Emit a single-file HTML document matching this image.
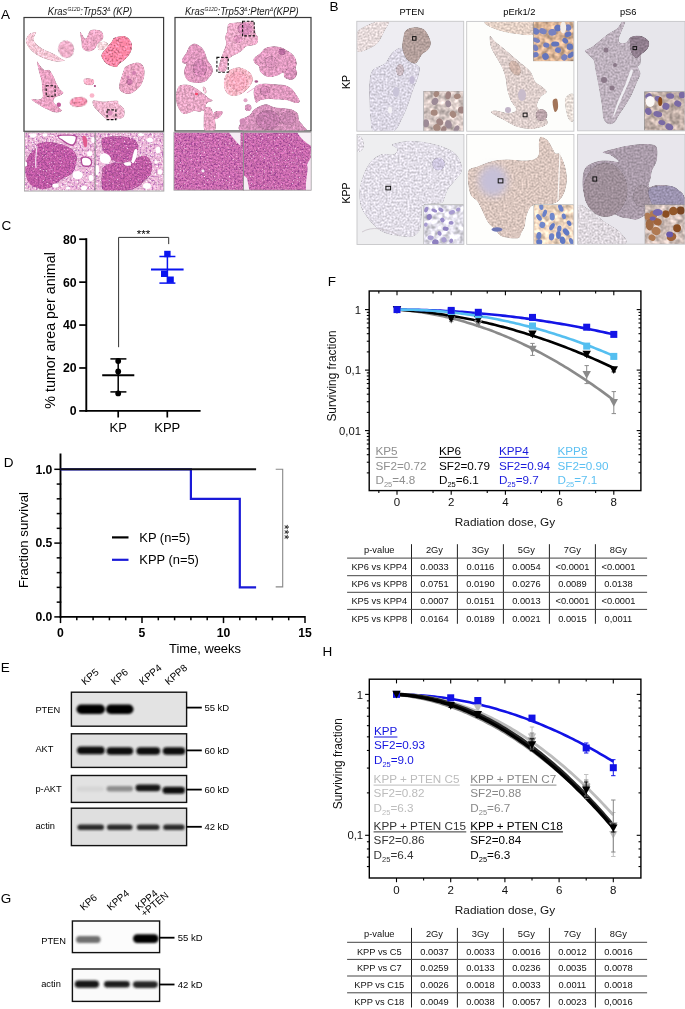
<!DOCTYPE html>
<html><head><meta charset="utf-8"><title>Figure</title>
<style>
html,body{margin:0;padding:0;background:#fff;width:685px;height:1009px;overflow:hidden}
svg{display:block;will-change:transform}
text{font-family:"Liberation Sans",sans-serif}
</style></head><body>
<svg width="685" height="1009" viewBox="0 0 685 1009">
<rect width="685" height="1009" fill="#fff"/>
<text x="1.00" y="18.90" font-size="13.5" fill="#000" text-anchor="start" font-weight="normal" font-style="normal" >A</text>
<text x="329.50" y="10.60" font-size="13.5" fill="#000" text-anchor="start" font-weight="normal" font-style="normal" >B</text>
<text x="1.50" y="230.20" font-size="13.5" fill="#000" text-anchor="start" font-weight="normal" font-style="normal" >C</text>
<text x="3.80" y="466.80" font-size="13.5" fill="#000" text-anchor="start" font-weight="normal" font-style="normal" >D</text>
<text x="0.80" y="672.20" font-size="13.5" fill="#000" text-anchor="start" font-weight="normal" font-style="normal" >E</text>
<text x="327.80" y="286.00" font-size="13.5" fill="#000" text-anchor="start" font-weight="normal" font-style="normal" >F</text>
<text x="0.80" y="903.20" font-size="13.5" fill="#000" text-anchor="start" font-weight="normal" font-style="normal" >G</text>
<text x="322.50" y="656.00" font-size="13.5" fill="#000" text-anchor="start" font-weight="normal" font-style="normal" >H</text>
<text transform="translate(47.8,14.6) scale(0.935,1)" x="0" y="0" font-size="10.2" font-style="italic" fill="#1a1a1a"><tspan dy="0.00">Kras</tspan><tspan font-size="5.30" dy="-3.60">G12D</tspan><tspan dy="3.60">:Trp53</tspan><tspan font-size="5.30" dy="-3.60">Δ</tspan><tspan dy="3.60"> (KP)</tspan></text>
<text transform="translate(185.0,14.6) scale(0.935,1)" x="0" y="0" font-size="10.2" font-style="italic" fill="#1a1a1a"><tspan dy="0.00">Kras</tspan><tspan font-size="5.30" dy="-3.60">G12D</tspan><tspan dy="3.60">:Trp53</tspan><tspan font-size="5.30" dy="-3.60">Δ</tspan><tspan dy="3.60">:Pten</tspan><tspan font-size="5.30" dy="-3.60">Δ</tspan><tspan dy="3.60">(KPP)</tspan></text>
<rect x="24.00" y="17.50" width="139.60" height="113.80" fill="none" stroke="#3a3a3a" stroke-width="1.2" />
<rect x="175.00" y="17.50" width="136.00" height="113.50" fill="none" stroke="#3a3a3a" stroke-width="1.2" />
<text x="411.80" y="15.20" font-size="9.3" fill="#000" text-anchor="middle" font-weight="normal" font-style="normal" >PTEN</text>
<text x="519.30" y="15.20" font-size="9.3" fill="#000" text-anchor="middle" font-weight="normal" font-style="normal" >pErk1/2</text>
<text x="628.20" y="15.20" font-size="9.3" fill="#000" text-anchor="middle" font-weight="normal" font-style="normal" >pS6</text>
<text transform="translate(350.3,82) rotate(-90)" font-size="10.5" text-anchor="middle">KP</text>
<text transform="translate(350.3,193) rotate(-90)" font-size="10.5" text-anchor="middle">KPP</text>
<g id="histB"></g>
<line x1="86.30" y1="238.20" x2="86.30" y2="411.90" stroke="#000" stroke-width="1.9" />
<line x1="85.40" y1="410.90" x2="200.60" y2="410.90" stroke="#000" stroke-width="1.9" />
<line x1="79.20" y1="410.90" x2="86.30" y2="410.90" stroke="#000" stroke-width="1.7" />
<text x="76.60" y="415.30" font-size="12.3" fill="#000" text-anchor="end" font-weight="bold" font-style="normal" >0</text>
<line x1="79.20" y1="367.98" x2="86.30" y2="367.98" stroke="#000" stroke-width="1.7" />
<text x="76.60" y="372.38" font-size="12.3" fill="#000" text-anchor="end" font-weight="bold" font-style="normal" >20</text>
<line x1="79.20" y1="325.06" x2="86.30" y2="325.06" stroke="#000" stroke-width="1.7" />
<text x="76.60" y="329.46" font-size="12.3" fill="#000" text-anchor="end" font-weight="bold" font-style="normal" >40</text>
<line x1="79.20" y1="282.14" x2="86.30" y2="282.14" stroke="#000" stroke-width="1.7" />
<text x="76.60" y="286.54" font-size="12.3" fill="#000" text-anchor="end" font-weight="bold" font-style="normal" >60</text>
<line x1="79.20" y1="239.22" x2="86.30" y2="239.22" stroke="#000" stroke-width="1.7" />
<text x="76.60" y="243.62" font-size="12.3" fill="#000" text-anchor="end" font-weight="bold" font-style="normal" >80</text>
<line x1="118.20" y1="410.90" x2="118.20" y2="417.50" stroke="#000" stroke-width="1.7" />
<line x1="167.30" y1="410.90" x2="167.30" y2="417.50" stroke="#000" stroke-width="1.7" />
<text x="118.20" y="432.40" font-size="13.0" fill="#000" text-anchor="middle" font-weight="normal" font-style="normal" >KP</text>
<text x="167.30" y="432.40" font-size="13.0" fill="#000" text-anchor="middle" font-weight="normal" font-style="normal" >KPP</text>
<text transform="translate(55.2,330.4) rotate(-90)" font-size="14.3" text-anchor="middle">% tumor area per animal</text>
<polyline points="118.6,347.2 118.6,237.4 168.7,237.4 168.7,244.1" fill="none" stroke="#333" stroke-width="1"/>
<text x="143.40" y="237.80" font-size="11.6" fill="#000" text-anchor="middle" font-weight="normal" font-style="normal" >***</text>
<line x1="102.20" y1="375.30" x2="134.30" y2="375.30" stroke="#000" stroke-width="2" />
<line x1="118.20" y1="358.90" x2="118.20" y2="391.90" stroke="#000" stroke-width="1.5" />
<line x1="110.40" y1="358.90" x2="126.40" y2="358.90" stroke="#000" stroke-width="1.5" />
<line x1="110.40" y1="391.90" x2="126.40" y2="391.90" stroke="#000" stroke-width="1.5" />
<circle cx="118.2" cy="361" r="2.9" fill="#000"/>
<circle cx="118.2" cy="371.5" r="2.9" fill="#000"/>
<circle cx="118.2" cy="393.4" r="2.9" fill="#000"/>
<line x1="151.00" y1="269.50" x2="183.60" y2="269.50" stroke="#0a14f0" stroke-width="2.2" />
<line x1="167.40" y1="256.50" x2="167.40" y2="283.10" stroke="#0a14f0" stroke-width="1.5" />
<line x1="159.40" y1="256.50" x2="175.40" y2="256.50" stroke="#0a14f0" stroke-width="1.5" />
<line x1="159.40" y1="283.10" x2="175.40" y2="283.10" stroke="#0a14f0" stroke-width="1.5" />
<rect x="164.20" y="250.80" width="6.40" height="6.40" fill="#0a14f0" stroke="none" stroke-width="1" />
<rect x="161.00" y="270.60" width="6.40" height="6.40" fill="#0a14f0" stroke="none" stroke-width="1" />
<rect x="167.40" y="276.50" width="6.40" height="6.40" fill="#0a14f0" stroke="none" stroke-width="1" />
<line x1="60.50" y1="453.50" x2="60.50" y2="617.80" stroke="#000" stroke-width="1.9" />
<line x1="59.60" y1="616.90" x2="305.00" y2="616.90" stroke="#000" stroke-width="1.9" />
<line x1="54.30" y1="616.90" x2="61.30" y2="616.90" stroke="#000" stroke-width="1.5" />
<line x1="56.70" y1="602.14" x2="61.30" y2="602.14" stroke="#000" stroke-width="1.5" />
<line x1="56.70" y1="587.38" x2="61.30" y2="587.38" stroke="#000" stroke-width="1.5" />
<line x1="56.70" y1="572.62" x2="61.30" y2="572.62" stroke="#000" stroke-width="1.5" />
<line x1="56.70" y1="557.86" x2="61.30" y2="557.86" stroke="#000" stroke-width="1.5" />
<line x1="54.30" y1="543.10" x2="61.30" y2="543.10" stroke="#000" stroke-width="1.5" />
<line x1="56.70" y1="528.34" x2="61.30" y2="528.34" stroke="#000" stroke-width="1.5" />
<line x1="56.70" y1="513.58" x2="61.30" y2="513.58" stroke="#000" stroke-width="1.5" />
<line x1="56.70" y1="498.82" x2="61.30" y2="498.82" stroke="#000" stroke-width="1.5" />
<line x1="56.70" y1="484.06" x2="61.30" y2="484.06" stroke="#000" stroke-width="1.5" />
<line x1="54.30" y1="469.30" x2="61.30" y2="469.30" stroke="#000" stroke-width="1.5" />
<text x="52.40" y="621.10" font-size="12.2" fill="#000" text-anchor="end" font-weight="bold" font-style="normal" >0.0</text>
<text x="52.40" y="547.30" font-size="12.2" fill="#000" text-anchor="end" font-weight="bold" font-style="normal" >0.5</text>
<text x="52.40" y="473.50" font-size="12.2" fill="#000" text-anchor="end" font-weight="bold" font-style="normal" >1.0</text>
<line x1="60.50" y1="616.00" x2="60.50" y2="623.10" stroke="#000" stroke-width="1.5" />
<line x1="76.80" y1="616.00" x2="76.80" y2="620.30" stroke="#000" stroke-width="1.5" />
<line x1="93.10" y1="616.00" x2="93.10" y2="620.30" stroke="#000" stroke-width="1.5" />
<line x1="109.40" y1="616.00" x2="109.40" y2="620.30" stroke="#000" stroke-width="1.5" />
<line x1="125.70" y1="616.00" x2="125.70" y2="620.30" stroke="#000" stroke-width="1.5" />
<line x1="142.00" y1="616.00" x2="142.00" y2="623.10" stroke="#000" stroke-width="1.5" />
<line x1="158.30" y1="616.00" x2="158.30" y2="620.30" stroke="#000" stroke-width="1.5" />
<line x1="174.60" y1="616.00" x2="174.60" y2="620.30" stroke="#000" stroke-width="1.5" />
<line x1="190.90" y1="616.00" x2="190.90" y2="620.30" stroke="#000" stroke-width="1.5" />
<line x1="207.20" y1="616.00" x2="207.20" y2="620.30" stroke="#000" stroke-width="1.5" />
<line x1="223.50" y1="616.00" x2="223.50" y2="623.10" stroke="#000" stroke-width="1.5" />
<line x1="239.80" y1="616.00" x2="239.80" y2="620.30" stroke="#000" stroke-width="1.5" />
<line x1="256.10" y1="616.00" x2="256.10" y2="620.30" stroke="#000" stroke-width="1.5" />
<line x1="272.40" y1="616.00" x2="272.40" y2="620.30" stroke="#000" stroke-width="1.5" />
<line x1="288.70" y1="616.00" x2="288.70" y2="620.30" stroke="#000" stroke-width="1.5" />
<line x1="305.00" y1="616.00" x2="305.00" y2="623.10" stroke="#000" stroke-width="1.5" />
<text x="60.50" y="636.60" font-size="12.2" fill="#000" text-anchor="middle" font-weight="bold" font-style="normal" >0</text>
<text x="142.00" y="636.60" font-size="12.2" fill="#000" text-anchor="middle" font-weight="bold" font-style="normal" >5</text>
<text x="223.50" y="636.60" font-size="12.2" fill="#000" text-anchor="middle" font-weight="bold" font-style="normal" >10</text>
<text x="305.00" y="636.60" font-size="12.2" fill="#000" text-anchor="middle" font-weight="bold" font-style="normal" >15</text>
<text x="205.00" y="652.60" font-size="12.9" fill="#000" text-anchor="middle" font-weight="normal" font-style="normal" >Time, weeks</text>
<text transform="translate(27.6,540) rotate(-90)" font-size="13.2" text-anchor="middle">Fraction survival</text>
<polyline points="60.5,469.29999999999995 190.9,469.29999999999995 190.9,498.82 239.8,498.82 239.8,587.38 256.1,587.38" fill="none" stroke="#1a1ad8" stroke-width="2.2"/>
<line x1="60.50" y1="469.30" x2="256.10" y2="469.30" stroke="#111" stroke-width="2" />
<polyline points="275.7,469.2 282.7,469.2 282.7,586.9 275.7,586.9" fill="none" stroke="#888" stroke-width="1.1"/>
<text transform="translate(280.4,532) rotate(90)" font-size="13" text-anchor="middle">***</text>
<line x1="112.00" y1="537.40" x2="128.50" y2="537.40" stroke="#000" stroke-width="2.2" />
<line x1="112.00" y1="559.80" x2="128.50" y2="559.80" stroke="#1a1ad8" stroke-width="2.2" />
<text x="139.30" y="542.00" font-size="12.9" fill="#000" text-anchor="start" font-weight="normal" font-style="normal" >KP (n=5)</text>
<text x="139.30" y="564.40" font-size="12.9" fill="#000" text-anchor="start" font-weight="normal" font-style="normal" >KPP (n=5)</text>
<defs>
<filter id="he3" x="-5%" y="-5%" width="110%" height="110%" color-interpolation-filters="sRGB"><feTurbulence type="fractalNoise" baseFrequency="0.55" numOctaves="2" seed="21" result="n"/><feColorMatrix in="n" type="matrix" values="0 0 0 0 0.58 0 0 0 0 0.24 0 0 0 0 0.56 3.2 0 0 0 -1.55" result="dk"/><feTurbulence type="fractalNoise" baseFrequency="0.715" numOctaves="1" seed="22" result="n2"/><feColorMatrix in="n2" type="matrix" values="0 0 0 0 1 0 0 0 0 1 0 0 0 0 1 5 0 0 0 -3.25" result="wt"/><feColorMatrix in="n" type="matrix" values="0 1 0 0 0 0 1 0 0 0 0 1 0 0 0 0 0 0 0 1" result="g"/><feComposite in="SourceGraphic" in2="g" operator="arithmetic" k1="0.5" k2="0.75" k3="0" k4="0" result="base"/><feComposite in="dk" in2="base" operator="over" result="a1"/><feComposite in="wt" in2="a1" operator="over" result="a2"/><feComposite in="a2" in2="SourceGraphic" operator="in"/></filter>
<filter id="he4" x="-5%" y="-5%" width="110%" height="110%" color-interpolation-filters="sRGB"><feTurbulence type="fractalNoise" baseFrequency="0.5" numOctaves="2" seed="31" result="n"/><feColorMatrix in="n" type="matrix" values="0 0 0 0 0.72 0 0 0 0 0.42 0 0 0 0 0.72 4 0 0 0 -2.0" result="dk"/><feTurbulence type="fractalNoise" baseFrequency="0.650" numOctaves="1" seed="32" result="n2"/><feColorMatrix in="n2" type="matrix" values="0 0 0 0 1 0 0 0 0 1 0 0 0 0 1 5 0 0 0 -2.8" result="wt"/><feColorMatrix in="n" type="matrix" values="0 1 0 0 0 0 1 0 0 0 0 1 0 0 0 0 0 0 0 1" result="g"/><feComposite in="SourceGraphic" in2="g" operator="arithmetic" k1="0.5" k2="0.75" k3="0" k4="0" result="base"/><feComposite in="dk" in2="base" operator="over" result="a1"/><feComposite in="wt" in2="a1" operator="over" result="a2"/><feComposite in="a2" in2="SourceGraphic" operator="in"/></filter>
<filter id="he" x="-5%" y="-5%" width="110%" height="110%" color-interpolation-filters="sRGB"><feTurbulence type="fractalNoise" baseFrequency="0.45" numOctaves="3" seed="3" result="n"/><feColorMatrix in="n" type="matrix" values="1 0 0 0 0 1 0 0 0 0 1 0 0 0 0 0 0 0 0 1" result="g"/><feComposite in="SourceGraphic" in2="g" operator="arithmetic" k1="0.6" k2="0.7" k3="0" k4="0.0" result="m"/><feComposite in="m" in2="SourceGraphic" operator="in"/></filter>
<filter id="he2" x="-5%" y="-5%" width="110%" height="110%" color-interpolation-filters="sRGB"><feTurbulence type="fractalNoise" baseFrequency="0.5" numOctaves="3" seed="7" result="n"/><feColorMatrix in="n" type="matrix" values="1 0 0 0 0 1 0 0 0 0 1 0 0 0 0 0 0 0 0 1" result="g"/><feComposite in="SourceGraphic" in2="g" operator="arithmetic" k1="1.2" k2="0.42" k3="0" k4="0.0" result="m"/><feComposite in="m" in2="SourceGraphic" operator="in"/></filter>
<filter id="ihc" x="-5%" y="-5%" width="110%" height="110%" color-interpolation-filters="sRGB"><feTurbulence type="fractalNoise" baseFrequency="0.5" numOctaves="2" seed="11" result="n"/><feColorMatrix in="n" type="matrix" values="1 0 0 0 0 1 0 0 0 0 1 0 0 0 0 0 0 0 0 1" result="g"/><feComposite in="SourceGraphic" in2="g" operator="arithmetic" k1="0.5" k2="0.76" k3="0" k4="0.0" result="m"/><feComposite in="m" in2="SourceGraphic" operator="in"/></filter>
<filter id="ins" x="-5%" y="-5%" width="110%" height="110%" color-interpolation-filters="sRGB"><feTurbulence type="fractalNoise" baseFrequency="0.2" numOctaves="2" seed="5" result="n"/><feColorMatrix in="n" type="matrix" values="1 0 0 0 0 1 0 0 0 0 1 0 0 0 0 0 0 0 0 1" result="g"/><feComposite in="SourceGraphic" in2="g" operator="arithmetic" k1="0.8" k2="0.62" k3="0" k4="0.0" result="m"/><feComposite in="m" in2="SourceGraphic" operator="in"/></filter>
<filter id="soft" x="-5%" y="-5%" width="110%" height="110%"><feGaussianBlur stdDeviation="0.6"/></filter>
<clipPath id="cA1"><rect x="24.6" y="18.1" width="138.4" height="112.6"/></clipPath>
<clipPath id="cA2"><rect x="175.6" y="18.1" width="134.8" height="112.3"/></clipPath>
</defs>
<g clip-path="url(#cA1)">
<path d="M36.20,32.20 C35.77,31.68 33.32,32.35 32.00,32.80 C30.68,33.25 29.27,33.85 28.30,34.90 C27.33,35.95 26.47,37.53 26.20,39.10 C25.93,40.67 25.65,42.20 26.70,44.30 C27.75,46.40 29.78,49.42 32.50,51.70 C35.22,53.98 38.97,56.33 43.00,58.00 C47.03,59.67 53.02,61.27 56.70,61.70 C60.38,62.13 64.23,61.05 65.10,60.60 C65.97,60.15 63.83,60.13 61.90,59.00 C59.97,57.87 56.65,55.45 53.50,53.80 C50.35,52.15 45.80,50.68 43.00,49.10 C40.20,47.52 38.27,45.80 36.70,44.30 C35.13,42.80 33.95,41.50 33.60,40.10 C33.25,38.70 34.17,37.22 34.60,35.90 C35.03,34.58 36.63,32.72 36.20,32.20Z" fill="#f8c8d6" filter="url(#he)" />
<ellipse cx="66.10" cy="49.10" rx="7.90" ry="8.90" fill="#f0b0ca" filter="url(#he)" transform="rotate(-15 66.1 49.1)" />
<path d="M80.20,31.90 C80.93,31.53 84.07,38.68 85.70,38.50 C87.33,38.32 88.18,32.27 90.00,30.80 C91.82,29.33 94.58,29.52 96.60,29.70 C98.62,29.88 101.00,30.43 102.10,31.90 C103.20,33.37 103.93,36.50 103.20,38.50 C102.47,40.50 99.17,42.08 97.70,43.90 C96.23,45.72 96.03,48.12 94.40,49.40 C92.77,50.68 89.90,51.78 87.90,51.60 C85.90,51.42 83.50,50.12 82.40,48.30 C81.30,46.48 81.67,43.43 81.30,40.70 C80.93,37.97 79.47,32.27 80.20,31.90Z" fill="#eea8c6" filter="url(#he)" />
<path d="M98.10,43.40 C99.02,42.02 102.28,41.33 104.00,41.50 C105.72,41.67 108.40,43.08 108.40,44.40 C108.40,45.72 105.65,48.50 104.00,49.40 C102.35,50.30 99.48,50.80 98.50,49.80 C97.52,48.80 97.18,44.78 98.10,43.40Z" fill="#fad8de" filter="url(#he)" />
<path d="M114.80,37.50 C117.13,36.60 122.80,35.50 125.60,36.40 C128.40,37.30 130.70,40.37 131.60,42.90 C132.50,45.43 132.00,48.90 131.00,51.60 C130.00,54.30 127.67,56.95 125.60,59.10 C123.53,61.25 120.03,63.20 118.60,64.50 C117.17,65.80 118.17,66.62 117.00,66.90 C115.83,67.18 113.58,66.95 111.60,66.20 C109.62,65.45 106.82,64.22 105.10,62.40 C103.38,60.58 101.12,57.65 101.30,55.30 C101.48,52.95 104.48,50.55 106.20,48.30 C107.92,46.05 110.17,43.60 111.60,41.80 C113.03,40.00 112.47,38.40 114.80,37.50Z" fill="#f884a2" filter="url(#he2)" />
<path d="M125.60,66.50 C127.58,65.15 132.68,63.07 135.40,62.70 C138.12,62.33 140.37,62.95 141.90,64.30 C143.43,65.65 144.33,68.28 144.60,70.80 C144.87,73.32 144.32,76.70 143.50,79.40 C142.68,82.10 141.42,84.83 139.70,87.00 C137.98,89.17 135.37,91.23 133.20,92.40 C131.03,93.57 128.87,94.27 126.70,94.00 C124.53,93.73 121.45,92.33 120.20,90.80 C118.95,89.27 119.02,87.05 119.20,84.80 C119.38,82.55 120.58,79.63 121.30,77.30 C122.02,74.97 122.78,72.60 123.50,70.80 C124.22,69.00 123.62,67.85 125.60,66.50Z" fill="#eba6c4" filter="url(#he)" />
<ellipse cx="129.50" cy="82.00" rx="3.20" ry="3.00" fill="#ca78aa" filter="url(#he)" />
<ellipse cx="134.00" cy="73.00" rx="2.00" ry="2.00" fill="#d180b0" />
<ellipse cx="128.00" cy="77.00" rx="1.60" ry="1.60" fill="#d180b0" />
<path d="M37.00,61.50 C37.23,60.50 39.15,64.58 40.40,66.00 C41.65,67.42 43.02,69.33 44.50,70.00 C45.98,70.67 47.80,68.95 49.30,70.00 C50.80,71.05 52.27,74.02 53.50,76.30 C54.73,78.58 55.65,81.60 56.70,83.70 C57.75,85.80 58.67,87.42 59.80,88.90 C60.93,90.38 63.32,91.55 63.50,92.60 C63.68,93.65 62.22,94.42 60.90,95.20 C59.58,95.98 56.83,96.25 55.60,97.30 C54.37,98.35 53.32,100.10 53.50,101.50 C53.68,102.90 55.30,104.20 56.70,105.70 C58.10,107.20 62.08,109.35 61.90,110.50 C61.72,111.65 58.22,112.87 55.60,112.60 C52.98,112.33 49.00,110.22 46.20,108.90 C43.40,107.58 41.25,106.28 38.80,104.70 C36.35,103.12 31.67,100.28 31.50,99.40 C31.33,98.52 35.97,99.75 37.80,99.40 C39.63,99.05 41.80,99.22 42.50,97.30 C43.20,95.38 42.18,90.70 42.00,87.90 C41.82,85.10 41.90,83.15 41.40,80.50 C40.90,77.85 39.73,75.17 39.00,72.00 C38.27,68.83 36.77,62.50 37.00,61.50Z" fill="#eba3c4" filter="url(#he)" />
<ellipse cx="58.80" cy="104.70" rx="2.20" ry="2.20" fill="#c05a98" />
<ellipse cx="78.50" cy="102.00" rx="9.00" ry="5.00" fill="#f893b0" filter="url(#he2)" transform="rotate(-5 78.5 102.0)" />
<path d="M84.00,79.00 C85.00,78.23 88.33,78.23 90.00,78.40 C91.67,78.57 93.50,78.95 94.00,80.00 C94.50,81.05 94.17,83.87 93.00,84.70 C91.83,85.53 88.50,85.28 87.00,85.00 C85.50,84.72 84.50,84.00 84.00,83.00 C83.50,82.00 83.00,79.77 84.00,79.00Z" fill="#f8aec6" filter="url(#he)" />
<ellipse cx="92.00" cy="95.50" rx="2.40" ry="2.20" fill="#fab6ca" />
<ellipse cx="94.90" cy="86.00" rx="1.10" ry="0.90" fill="#a84682" />
<path d="M93.20,100.50 C94.83,99.87 99.03,101.60 103.00,101.60 C106.97,101.60 114.40,100.13 117.00,100.50 C119.60,100.87 117.60,102.63 118.60,103.80 C119.60,104.97 122.00,106.33 123.00,107.50 C124.00,108.67 124.52,109.17 124.60,110.80 C124.68,112.43 124.95,115.83 123.50,117.30 C122.05,118.77 118.60,119.22 115.90,119.60 C113.20,119.98 109.82,120.53 107.30,119.60 C104.78,118.67 102.60,115.65 100.80,114.00 C99.00,112.35 97.77,111.13 96.50,109.70 C95.23,108.27 93.75,106.93 93.20,105.40 C92.65,103.87 91.57,101.13 93.20,100.50Z" fill="#f0b6ce" filter="url(#he)" />
<ellipse cx="110.00" cy="113.00" rx="2.50" ry="2.50" fill="#d78cb8" />
</g>
<rect x="46.20" y="85.80" width="8.90" height="10.50" fill="none" stroke="#111" stroke-width="1.1" stroke-dasharray="2.6,1.6"/>
<rect x="107.10" y="109.90" width="8.80" height="9.70" fill="none" stroke="#111" stroke-width="1.1" stroke-dasharray="2.6,1.6"/>
<g clip-path="url(#cA2)">
<path d="M228.20,24.20 C229.57,22.75 232.67,22.95 235.30,22.60 C237.93,22.25 241.12,22.33 244.00,22.10 C246.88,21.87 250.82,20.47 252.60,21.20 C254.38,21.93 254.17,24.40 254.70,26.50 C255.23,28.60 255.27,32.05 255.80,33.80 C256.33,35.55 257.65,35.42 257.90,37.00 C258.15,38.58 258.18,41.90 257.30,43.30 C256.42,44.70 254.43,44.88 252.60,45.40 C250.77,45.92 248.05,45.53 246.30,46.40 C244.55,47.27 243.58,49.37 242.10,50.60 C240.62,51.83 239.22,52.75 237.40,53.80 C235.58,54.85 232.73,55.88 231.20,56.90 C229.67,57.92 228.88,58.03 228.20,59.90 C227.52,61.77 227.78,66.05 227.10,68.10 C226.42,70.15 225.62,71.87 224.10,72.20 C222.58,72.53 218.85,71.30 218.00,70.10 C217.15,68.90 218.50,67.03 219.00,65.00 C219.50,62.97 220.33,59.93 221.00,57.90 C221.67,55.87 222.15,55.18 223.00,52.80 C223.85,50.42 225.75,46.17 226.10,43.60 C226.45,41.03 224.93,39.45 225.10,37.40 C225.27,35.35 226.58,33.50 227.10,31.30 C227.62,29.10 226.83,25.65 228.20,24.20Z" fill="#ecacca" filter="url(#he)" />
<ellipse cx="245.00" cy="29.00" rx="7.50" ry="6.50" fill="#d78cb9" filter="url(#he)" />
<ellipse cx="238.00" cy="39.00" rx="4.50" ry="4.00" fill="#df96be" filter="url(#he)" />
<path d="M194.40,43.60 C196.28,43.60 198.88,45.25 200.60,46.60 C202.32,47.95 203.52,49.48 204.70,51.70 C205.88,53.92 206.52,57.52 207.70,59.90 C208.88,62.28 210.95,63.98 211.80,66.00 C212.65,68.02 213.32,69.97 212.80,72.00 C212.28,74.03 210.23,76.48 208.70,78.20 C207.17,79.92 205.98,81.53 203.60,82.30 C201.22,83.07 197.12,83.15 194.40,82.80 C191.68,82.45 189.00,81.65 187.30,80.20 C185.60,78.75 184.63,76.13 184.20,74.10 C183.77,72.07 184.35,69.60 184.70,68.00 C185.05,66.40 186.63,65.33 186.30,64.50 C185.97,63.67 183.38,63.93 182.70,63.00 C182.02,62.07 181.60,60.60 182.20,58.90 C182.80,57.20 185.12,54.85 186.30,52.80 C187.48,50.75 187.95,48.13 189.30,46.60 C190.65,45.07 192.52,43.60 194.40,43.60Z" fill="#e19ac0" filter="url(#he)" />
<ellipse cx="200.00" cy="68.00" rx="7.00" ry="9.00" fill="#d58ab7" filter="url(#he)" />
<path d="M180.10,85.30 C181.97,84.53 185.57,84.28 188.30,84.80 C191.03,85.32 194.45,87.28 196.50,88.40 C198.55,89.52 199.23,90.48 200.60,91.50 C201.97,92.52 203.35,93.40 204.70,94.50 C206.05,95.60 207.35,97.07 208.70,98.10 C210.05,99.13 212.97,99.93 212.80,100.70 C212.63,101.47 208.88,101.68 207.70,102.70 C206.52,103.72 205.18,105.95 205.70,106.80 C206.22,107.65 209.27,105.77 210.80,107.80 C212.33,109.83 214.22,115.22 214.90,119.00 C215.58,122.78 216.60,128.58 214.90,130.50 C213.20,132.42 206.58,132.42 204.70,130.50 C202.82,128.58 203.78,122.27 203.60,119.00 C203.42,115.73 204.28,112.08 203.60,110.90 C202.92,109.72 201.03,111.90 199.50,111.90 C197.97,111.90 196.10,110.73 194.40,110.90 C192.70,111.07 191.00,112.40 189.30,112.90 C187.60,113.40 185.73,114.23 184.20,113.90 C182.67,113.57 181.37,112.60 180.10,110.90 C178.83,109.20 177.28,106.43 176.60,103.70 C175.92,100.97 175.92,96.88 176.00,94.50 C176.08,92.12 176.42,90.93 177.10,89.40 C177.78,87.87 178.23,86.07 180.10,85.30Z" fill="#e8a8c6" filter="url(#he)" />
<ellipse cx="196.50" cy="94.00" rx="1.60" ry="1.20" fill="#f8466a" />
<path d="M213.90,112.50 C214.57,111.15 217.48,110.98 219.00,110.90 C220.52,110.82 222.83,110.98 223.00,112.00 C223.17,113.02 221.33,115.83 220.00,117.00 C218.67,118.17 216.02,119.75 215.00,119.00 C213.98,118.25 213.23,113.85 213.90,112.50Z" fill="#e09abe" filter="url(#he)" />
<path d="M202.60,87.40 C202.68,86.32 204.32,86.23 205.00,87.00 C205.68,87.77 206.78,90.92 206.70,92.00 C206.62,93.08 205.18,94.27 204.50,93.50 C203.82,92.73 202.52,88.48 202.60,87.40Z" fill="#f3bed0" filter="url(#he)" />
<path d="M230.70,69.40 C232.93,68.40 236.97,66.95 240.10,67.40 C243.23,67.85 247.37,70.20 249.50,72.10 C251.63,74.00 252.67,76.68 252.90,78.80 C253.13,80.92 252.13,82.78 250.90,84.80 C249.67,86.82 247.73,89.10 245.50,90.90 C243.27,92.70 240.18,94.93 237.50,95.60 C234.82,96.27 231.53,95.92 229.40,94.90 C227.27,93.88 225.60,91.97 224.70,89.50 C223.80,87.03 223.67,82.78 224.00,80.10 C224.33,77.42 225.58,75.18 226.70,73.40 C227.82,71.62 228.47,70.40 230.70,69.40Z" fill="#fdbac9" filter="url(#he)" />
<ellipse cx="238.00" cy="81.00" rx="9.50" ry="10.00" fill="#fbacc0" filter="url(#he)" />
<path d="M265.20,48.00 C267.12,46.85 269.03,46.57 271.50,46.40 C273.97,46.23 277.02,46.12 280.00,47.00 C282.98,47.88 286.95,50.05 289.40,51.70 C291.85,53.35 293.47,54.98 294.70,56.90 C295.93,58.82 296.63,61.27 296.80,63.20 C296.97,65.13 295.62,66.92 295.70,68.50 C295.78,70.08 297.42,71.12 297.30,72.70 C297.18,74.28 296.08,76.78 295.00,78.00 C293.92,79.22 292.55,80.08 290.80,80.00 C289.05,79.92 285.78,78.70 284.50,77.50 C283.22,76.30 284.45,73.03 283.10,72.80 C281.75,72.57 279.08,75.43 276.40,76.10 C273.72,76.77 269.68,77.47 267.00,76.80 C264.32,76.13 261.65,73.83 260.30,72.10 C258.95,70.37 259.83,67.88 258.90,66.40 C257.97,64.92 255.57,64.52 254.70,63.20 C253.83,61.88 252.82,60.15 253.70,58.50 C254.58,56.85 258.08,55.05 260.00,53.30 C261.92,51.55 263.28,49.15 265.20,48.00Z" fill="#e29cc2" filter="url(#he)" />
<ellipse cx="282.00" cy="51.70" rx="3.60" ry="3.30" fill="#bc6ea2" filter="url(#he)" />
<ellipse cx="290.80" cy="73.40" rx="6.00" ry="6.00" fill="#d892ba" filter="url(#he)" />
<ellipse cx="271.00" cy="62.00" rx="6.00" ry="6.00" fill="#da94bc" filter="url(#he)" />
<path d="M256.30,85.50 C258.08,84.27 261.40,83.72 264.30,83.50 C267.20,83.28 270.57,83.98 273.70,84.20 C276.83,84.42 280.18,84.13 283.10,84.80 C286.02,85.47 288.95,86.52 291.20,88.20 C293.45,89.88 295.15,92.67 296.60,94.90 C298.05,97.13 300.13,100.25 299.90,101.60 C299.67,102.95 297.32,103.22 295.20,103.00 C293.08,102.78 290.33,100.87 287.20,100.30 C284.07,99.73 279.55,99.83 276.40,99.60 C273.25,99.37 270.98,98.78 268.30,98.90 C265.62,99.02 262.30,99.62 260.30,100.30 C258.30,100.98 257.32,103.45 256.30,103.00 C255.28,102.55 254.65,99.62 254.20,97.60 C253.75,95.58 253.25,92.92 253.60,90.90 C253.95,88.88 254.52,86.73 256.30,85.50Z" fill="#e09ac0" filter="url(#he)" />
<ellipse cx="265.00" cy="91.00" rx="5.00" ry="5.00" fill="#d48ab6" filter="url(#he)" />
<line x1="246.9" y1="92.9" x2="260.3" y2="84.2" stroke="#e8b4d2" stroke-width="1"/>
<ellipse cx="256.30" cy="81.50" rx="1.80" ry="1.20" fill="#a8568a" />
<path d="M253.60,109.70 C255.17,108.37 258.07,106.60 260.30,105.70 C262.53,104.80 264.77,104.08 267.00,104.30 C269.23,104.52 270.78,106.33 273.70,107.00 C276.62,107.67 281.37,107.85 284.50,108.30 C287.63,108.75 290.27,108.80 292.50,109.70 C294.73,110.60 296.78,111.92 297.90,113.70 C299.02,115.48 298.30,118.38 299.20,120.40 C300.10,122.42 302.85,124.00 303.30,125.80 C303.75,127.60 311.75,130.30 301.90,131.20 C292.05,132.10 254.50,132.55 244.20,131.20 C233.90,129.85 240.55,125.12 240.10,123.10 C239.65,121.08 240.37,120.22 241.50,119.10 C242.63,117.98 245.33,117.30 246.90,116.40 C248.47,115.50 249.78,114.82 250.90,113.70 C252.02,112.58 252.03,111.03 253.60,109.70Z" fill="#d492ba" filter="url(#he)" />
<ellipse cx="268.00" cy="120.00" rx="12.00" ry="10.00" fill="#c37eac" filter="url(#he)" />
<ellipse cx="288.00" cy="118.00" rx="8.00" ry="7.00" fill="#c886b0" filter="url(#he)" />
<ellipse cx="248.20" cy="107.70" rx="3.40" ry="3.40" fill="#da96be" filter="url(#he)" />
<ellipse cx="245.50" cy="100.30" rx="2.00" ry="2.00" fill="#e1a6c6" />
<ellipse cx="242.20" cy="121.10" rx="2.60" ry="2.60" fill="#d08ab6" />
</g>
<rect x="242.60" y="21.20" width="11.60" height="14.70" fill="none" stroke="#111" stroke-width="1.1" stroke-dasharray="2.6,1.6"/>
<rect x="216.90" y="57.40" width="11.30" height="14.80" fill="none" stroke="#111" stroke-width="1.1" stroke-dasharray="2.6,1.6"/>
<clipPath id="cS1"><rect x="24.4" y="132.2" width="70.7" height="58.5"/></clipPath>
<clipPath id="cS2"><rect x="95.1" y="132.2" width="68.8" height="58.5"/></clipPath>
<clipPath id="cS3"><rect x="173.9" y="132.2" width="69.5" height="58.3"/></clipPath>
<clipPath id="cS4"><rect x="243.4" y="132.2" width="67.8" height="58.3"/></clipPath>
<g clip-path="url(#cS1)">
<rect x="24.40" y="132.20" width="70.70" height="58.50" fill="#ecb8d8" stroke="none" stroke-width="1" filter="url(#he4)"/>
<g filter="url(#soft)">
<path d="M37.70,143.60 C40.15,142.47 46.28,141.83 50.30,142.00 C54.32,142.17 58.30,143.47 61.80,144.60 C65.30,145.73 68.83,146.87 71.30,148.80 C73.77,150.73 75.90,153.22 76.60,156.20 C77.30,159.18 76.38,163.73 75.50,166.70 C74.62,169.67 73.22,172.08 71.30,174.00 C69.38,175.92 66.28,176.78 64.00,178.20 C61.72,179.62 59.88,180.92 57.60,182.50 C55.32,184.08 53.27,186.65 50.30,187.70 C47.33,188.75 43.13,189.32 39.80,188.80 C36.47,188.28 32.58,186.72 30.30,184.60 C28.02,182.48 26.88,179.62 26.10,176.10 C25.32,172.58 24.90,167.35 25.60,163.50 C26.30,159.65 28.63,155.45 30.30,153.00 C31.97,150.55 34.37,150.37 35.60,148.80 C36.83,147.23 35.25,144.73 37.70,143.60Z" fill="#c860aa" filter="url(#he3)" />
</g>
<path d="M57.60,135.20 C59.88,134.33 72.33,134.33 75.50,135.20 C78.67,136.07 76.95,138.65 76.60,140.40 C76.25,142.15 74.82,145.00 73.40,145.70 C71.98,146.40 70.03,145.48 68.10,144.60 C66.17,143.72 63.55,141.97 61.80,140.40 C60.05,138.83 55.32,136.07 57.60,135.20Z" fill="#b04c98" />
<path d="M59.20,136.30 C61.13,135.75 71.53,135.65 74.20,136.30 C76.87,136.95 75.43,138.88 75.20,140.20 C74.97,141.52 73.93,143.70 72.80,144.20 C71.67,144.70 70.10,143.97 68.40,143.20 C66.70,142.43 64.13,140.75 62.60,139.60 C61.07,138.45 57.27,136.85 59.20,136.30Z" fill="#ffffff" />
<path d="M81.30,157.20 C82.35,156.42 85.43,156.35 87.10,156.70 C88.77,157.05 90.43,158.17 91.30,159.30 C92.17,160.43 92.65,162.27 92.30,163.50 C91.95,164.73 90.77,166.25 89.20,166.70 C87.63,167.15 84.30,167.08 82.90,166.20 C81.50,165.32 81.07,162.90 80.80,161.40 C80.53,159.90 80.25,157.98 81.30,157.20Z" fill="#b04c98" />
<path d="M82.60,158.40 C83.42,157.83 85.73,157.73 87.00,158.00 C88.27,158.27 89.55,159.12 90.20,160.00 C90.85,160.88 91.13,162.40 90.90,163.30 C90.67,164.20 90.03,165.12 88.80,165.40 C87.57,165.68 84.62,165.67 83.50,165.00 C82.38,164.33 82.25,162.50 82.10,161.40 C81.95,160.30 81.78,158.97 82.60,158.40Z" fill="#ffffff" />
<path d="M82.50,136.50 C82.75,134.87 84.73,135.45 85.50,136.20 C86.27,136.95 86.93,139.28 87.10,141.00 C87.27,142.72 87.02,145.67 86.50,146.50 C85.98,147.33 84.67,147.67 84.00,146.00 C83.33,144.33 82.25,138.13 82.50,136.50Z" fill="#e25a8e" />
<ellipse cx="77.60" cy="175.10" rx="5.30" ry="4.20" fill="#ffffff" />
<ellipse cx="55.50" cy="185.60" rx="3.20" ry="2.10" fill="#ffffff" />
<ellipse cx="89.70" cy="153.50" rx="2.60" ry="2.60" fill="#ffffff" />
<ellipse cx="25.60" cy="164.00" rx="1.60" ry="2.60" fill="#ffffff" />
<ellipse cx="33.00" cy="135.50" rx="3.00" ry="2.20" fill="#ffffff" />
<ellipse cx="45.00" cy="135.00" rx="2.40" ry="1.80" fill="#ffffff" />
<ellipse cx="91.00" cy="178.00" rx="2.50" ry="3.00" fill="#ffffff" />
<ellipse cx="84.00" cy="188.00" rx="3.00" ry="2.20" fill="#ffffff" />
<ellipse cx="68.00" cy="188.00" rx="2.20" ry="1.60" fill="#ffffff" />
<ellipse cx="93.00" cy="140.00" rx="1.80" ry="3.00" fill="#ffffff" />
<path d="M37,146 C36,154 35,162 36,168" stroke="#f4e0f0" stroke-width="1.2" fill="none"/>
</g>
<g clip-path="url(#cS2)">
<rect x="95.10" y="132.20" width="68.80" height="58.50" fill="#ecb8d8" stroke="none" stroke-width="1" filter="url(#he4)"/>
<g filter="url(#soft)">
<path d="M102.40,138.30 C104.50,136.37 110.62,136.37 115.00,136.20 C119.38,136.03 125.02,136.25 128.70,137.30 C132.38,138.35 135.53,140.23 137.10,142.50 C138.67,144.77 138.63,148.27 138.10,150.90 C137.57,153.53 136.00,156.37 133.90,158.30 C131.80,160.23 128.65,161.98 125.50,162.50 C122.35,163.02 118.15,162.45 115.00,161.40 C111.85,160.35 108.70,158.47 106.60,156.20 C104.50,153.93 103.10,150.78 102.40,147.80 C101.70,144.82 100.30,140.23 102.40,138.30Z" fill="#c964ab" filter="url(#he3)" />
<path d="M103.50,166.70 C105.60,165.12 110.80,163.03 115.00,162.50 C119.20,161.97 124.85,164.38 128.70,163.50 C132.55,162.62 135.12,158.42 138.10,157.20 C141.08,155.98 144.32,155.15 146.60,156.20 C148.88,157.25 151.10,160.53 151.80,163.50 C152.50,166.47 152.02,171.18 150.80,174.00 C149.58,176.82 146.62,178.28 144.50,180.40 C142.38,182.52 141.27,184.93 138.10,186.70 C134.93,188.47 131.10,190.28 125.50,191.00 C119.90,191.72 108.52,192.77 104.50,191.00 C100.48,189.23 101.75,183.57 101.40,180.40 C101.05,177.23 102.05,174.28 102.40,172.00 C102.75,169.72 101.40,168.28 103.50,166.70Z" fill="#c762a9" filter="url(#he3)" />
</g>
<path d="M100.30,155.00 C101.13,153.58 104.25,153.00 106.00,153.50 C107.75,154.00 110.47,156.33 110.80,158.00 C111.13,159.67 109.63,162.83 108.00,163.50 C106.37,164.17 102.28,163.42 101.00,162.00 C99.72,160.58 99.47,156.42 100.30,155.00Z" fill="#ffffff" />
<path d="M124.50,162.80 C125.47,162.33 129.88,162.03 130.80,162.50 C131.72,162.97 130.97,165.13 130.00,165.60 C129.03,166.07 125.92,165.77 125.00,165.30 C124.08,164.83 123.53,163.27 124.50,162.80Z" fill="#ffffff" />
<path d="M134.50,150.00 C135.45,148.25 137.25,149.17 137.50,150.50 C137.75,151.83 136.67,155.92 136.00,158.00 C135.33,160.08 134.20,162.50 133.50,163.00 C132.80,163.50 131.63,163.17 131.80,161.00 C131.97,158.83 133.55,151.75 134.50,150.00Z" fill="#ffffff" />
<ellipse cx="147.00" cy="186.00" rx="4.00" ry="3.00" fill="#ffffff" />
<ellipse cx="97.00" cy="170.00" rx="2.00" ry="5.00" fill="#ffffff" />
<ellipse cx="150.00" cy="140.00" rx="3.00" ry="2.50" fill="#ffffff" />
<ellipse cx="158.00" cy="150.00" rx="2.50" ry="3.50" fill="#ffffff" />
<ellipse cx="160.00" cy="172.00" rx="2.20" ry="2.80" fill="#ffffff" />
<ellipse cx="156.00" cy="162.00" rx="1.80" ry="1.80" fill="#ffffff" />
<ellipse cx="141.00" cy="134.50" rx="3.00" ry="1.50" fill="#ffffff" />
</g>
<g clip-path="url(#cS3)">
<rect x="173.90" y="132.20" width="69.50" height="58.30" fill="#d272b4" stroke="none" stroke-width="1" filter="url(#he3)"/>
<path d="M228.8,132 L240.5,132 L240.5,145.8 C236,142 232,137 228.8,132Z" fill="#f6ecf4"/>
<ellipse cx="203.00" cy="171.00" rx="1.60" ry="1.40" fill="#f8eef6" />
</g>
<g clip-path="url(#cS4)">
<rect x="243.40" y="132.20" width="67.80" height="58.30" fill="#d070b2" stroke="none" stroke-width="1" filter="url(#he3)"/>
<path d="M243.4,175 L247,178 L249.5,190.5 L243.4,190.5Z" fill="#f6ecf4"/>
<path d="M297,132 L311.2,132 L311.2,146 C306,143 300,138 297,132Z" fill="#f8f0f6"/>
<path d="M311.2,157 L311.2,190.5 L306,190.5 C305,180 309,170 307,165 C308,162 310,159 311.2,157Z" fill="#f6e6f2"/>
</g>
<rect x="24.40" y="132.20" width="139.50" height="58.90" fill="none" stroke="#a0a0a0" stroke-width="0.8" />
<rect x="173.90" y="132.20" width="137.30" height="58.00" fill="none" stroke="#a0a0a0" stroke-width="0.8" />
<line x1="95.10" y1="132.20" x2="95.10" y2="190.70" stroke="#777" stroke-width="0.8" />
<line x1="243.40" y1="132.20" x2="243.40" y2="190.50" stroke="#777" stroke-width="0.8" />
<defs>
<clipPath id="cB0"><rect x="356.8" y="21.3" width="106.89999999999998" height="109.89999999999999"/></clipPath>
<clipPath id="cB1"><rect x="466.7" y="21.4" width="107.19999999999999" height="109.79999999999998"/></clipPath>
<clipPath id="cB2"><rect x="577.6" y="21.4" width="107.39999999999998" height="109.4"/></clipPath>
<clipPath id="cB3"><rect x="357.0" y="134.5" width="106.89999999999998" height="110.0"/></clipPath>
<clipPath id="cB4"><rect x="466.7" y="134.5" width="107.19999999999999" height="109.9"/></clipPath>
<clipPath id="cB5"><rect x="577.6" y="134.4" width="107.39999999999998" height="109.79999999999998"/></clipPath>
</defs>
<rect x="356.80" y="21.30" width="106.90" height="109.90" fill="#eeedf2" stroke="none" stroke-width="1" />
<rect x="466.70" y="21.40" width="107.20" height="109.80" fill="#fdfdfb" stroke="none" stroke-width="1" />
<rect x="577.60" y="21.40" width="107.40" height="109.40" fill="#e7e6eb" stroke="none" stroke-width="1" />
<rect x="357.00" y="134.50" width="106.90" height="110.00" fill="#eeeef0" stroke="none" stroke-width="1" />
<rect x="466.70" y="134.50" width="107.20" height="109.90" fill="#fefefc" stroke="none" stroke-width="1" />
<rect x="577.60" y="134.40" width="107.40" height="109.80" fill="#e8e6ec" stroke="none" stroke-width="1" />
<defs><filter id="nb" x="-10%" y="-10%" width="120%" height="120%"><feGaussianBlur stdDeviation="0.75"/></filter><filter id="db" x="-40%" y="-40%" width="180%" height="180%"><feGaussianBlur stdDeviation="3.5"/></filter></defs>
<g clip-path="url(#cB0)">
<path d="M356.70,32.80 C358.92,28.40 366.05,25.93 370.00,24.00 C373.95,22.07 377.22,21.67 380.40,21.20 C383.58,20.73 388.50,19.40 389.10,21.20 C389.70,23.00 386.00,28.23 384.00,32.00 C382.00,35.77 380.27,40.73 377.10,43.80 C373.93,46.87 368.40,49.30 365.00,50.40 C361.60,51.50 358.08,53.33 356.70,50.40 C355.32,47.47 354.48,37.20 356.70,32.80Z" fill="#e4d8d8" filter="url(#ihc)" />
<path d="M393.50,51.50 C395.70,50.05 398.65,46.20 402.30,48.20 C405.95,50.20 412.48,60.22 415.40,63.50 C418.32,66.78 419.43,65.35 419.80,67.90 C420.17,70.45 418.70,75.15 417.60,78.80 C416.50,82.45 414.67,85.78 413.20,89.80 C411.73,93.82 410.62,98.17 408.80,102.90 C406.98,107.63 404.85,113.45 402.30,118.20 C399.75,122.95 398.25,129.20 393.50,131.40 C388.75,133.60 377.63,133.60 373.80,131.40 C369.97,129.20 371.23,123.68 370.50,118.20 C369.77,112.72 369.58,104.33 369.40,98.50 C369.22,92.67 368.85,87.93 369.40,83.20 C369.95,78.47 370.15,73.38 372.70,70.10 C375.25,66.82 381.97,65.70 384.70,63.50 C387.43,61.30 387.63,58.90 389.10,56.90 C390.57,54.90 391.30,52.95 393.50,51.50Z" fill="#d9d5e2" filter="url(#ihc)" />
<path d="M405.50,30.70 C407.13,29.07 410.08,27.58 413.20,27.40 C416.32,27.22 421.28,27.23 424.20,29.60 C427.12,31.97 429.98,38.32 430.70,41.60 C431.42,44.88 429.95,47.12 428.50,49.30 C427.05,51.48 424.18,52.33 422.00,54.70 C419.82,57.07 417.97,62.77 415.40,63.50 C412.83,64.23 408.78,61.65 406.60,59.10 C404.42,56.55 402.83,51.85 402.30,48.20 C401.77,44.55 402.87,40.12 403.40,37.20 C403.93,34.28 403.87,32.33 405.50,30.70Z" fill="#b29e9a" filter="url(#ihc)" />
<ellipse cx="400.00" cy="70.00" rx="4.00" ry="6.00" fill="#c8b8c0" filter="url(#ihc)" />
<ellipse cx="390.00" cy="110.00" rx="2.00" ry="3.50" fill="#f4f2f6" />
<ellipse cx="412.00" cy="80.00" rx="2.50" ry="4.00" fill="#c4bcd4" />
<ellipse cx="396.00" cy="92.00" rx="3.00" ry="5.00" fill="#c9c4d8" />
</g>
<rect x="412.60" y="36.60" width="3.40" height="3.60" fill="none" stroke="#111" stroke-width="1"/>
<clipPath id="ci3"><rect x="423.50" y="90.90" width="40.20" height="40.30"/></clipPath>
<g clip-path="url(#ci3)"><rect x="423.50" y="90.90" width="40.20" height="40.30" fill="#d2c4c0" filter="url(#ins)"/>
<g filter="url(#nb)">
<ellipse cx="434.11" cy="112.66" rx="3.46" ry="3.20" fill="#a6887e" transform="rotate(-3.2 434.11 112.66)"/>
<ellipse cx="448.15" cy="95.28" rx="2.74" ry="3.99" fill="#a08482" transform="rotate(14.5 448.15 95.28)"/>
<ellipse cx="425.98" cy="123.30" rx="3.07" ry="4.10" fill="#9c8a96" transform="rotate(0.6 425.98 123.30)"/>
<ellipse cx="434.89" cy="101.41" rx="3.09" ry="3.74" fill="#9c8a96" transform="rotate(34.9 434.89 101.41)"/>
<ellipse cx="461.54" cy="109.97" rx="3.57" ry="3.43" fill="#a08482" transform="rotate(3.9 461.54 109.97)"/>
<ellipse cx="448.48" cy="124.41" rx="3.30" ry="4.18" fill="#9c8a96" transform="rotate(-14.8 448.48 124.41)"/>
<ellipse cx="452.95" cy="114.36" rx="3.06" ry="3.61" fill="#a6887e" transform="rotate(-35.2 452.95 114.36)"/>
<ellipse cx="436.41" cy="94.03" rx="2.67" ry="3.16" fill="#a6887e" transform="rotate(33.4 436.41 94.03)"/>
<ellipse cx="439.80" cy="121.97" rx="3.19" ry="3.78" fill="#a08482" transform="rotate(-38.2 439.80 121.97)"/>
<ellipse cx="457.31" cy="96.44" rx="3.54" ry="2.63" fill="#a6887e" transform="rotate(-10.5 457.31 96.44)"/>
<ellipse cx="448.18" cy="103.83" rx="2.84" ry="3.55" fill="#9c8a96" transform="rotate(-14.4 448.18 103.83)"/>
<ellipse cx="456.50" cy="128.87" rx="2.46" ry="3.81" fill="#9c8a96" transform="rotate(27.5 456.50 128.87)"/>
<ellipse cx="443.80" cy="129.15" rx="2.62" ry="3.20" fill="#a08482" transform="rotate(21.8 443.80 129.15)"/>
<ellipse cx="436.86" cy="127.70" rx="3.56" ry="3.69" fill="#a6887e" transform="rotate(-29.5 436.86 127.70)"/>
</g>
<path d="M423.50,131.20 L423.50,90.90 L463.70,90.90" fill="none" stroke="#8a8a8a" stroke-width="0.8"/></g>
<g clip-path="url(#cB1)">
<path d="M486.30,21.40 C492.73,20.13 525.72,19.25 533.60,21.40 C541.48,23.55 537.10,32.30 533.60,34.30 C530.10,36.30 519.03,34.28 512.60,33.40 C506.17,32.52 499.38,31.00 495.00,29.00 C490.62,27.00 479.87,22.67 486.30,21.40Z" fill="#e2cfc4" filter="url(#ihc)" />
<path d="M489.80,36.00 C490.52,35.13 492.38,38.97 495.00,41.30 C497.62,43.63 501.70,46.80 505.50,50.00 C509.30,53.20 513.70,56.98 517.80,60.50 C521.90,64.02 527.18,67.58 530.10,71.10 C533.02,74.62 533.27,78.98 535.30,81.60 C537.33,84.22 540.40,85.05 542.30,86.80 C544.20,88.55 546.98,90.35 546.70,92.10 C546.42,93.85 542.20,94.97 540.60,97.30 C539.00,99.63 536.82,103.47 537.10,106.10 C537.38,108.73 540.55,110.18 542.30,113.10 C544.05,116.02 549.05,120.97 547.60,123.60 C546.15,126.23 538.57,128.32 533.60,128.90 C528.63,129.48 522.77,128.57 517.80,127.10 C512.83,125.63 508.18,122.43 503.80,120.10 C499.42,117.77 492.97,114.70 491.50,113.10 C490.03,111.50 492.07,110.50 495.00,110.50 C497.93,110.50 505.58,113.25 509.10,113.10 C512.62,112.95 515.82,111.65 516.10,109.60 C516.38,107.55 512.27,104.02 510.80,100.80 C509.33,97.58 508.18,94.08 507.30,90.30 C506.42,86.52 506.38,81.88 505.50,78.10 C504.62,74.32 503.75,71.40 502.00,67.60 C500.25,63.80 496.88,58.82 495.00,55.30 C493.12,51.78 491.57,49.72 490.70,46.50 C489.83,43.28 489.08,36.87 489.80,36.00Z" fill="#dccdca" filter="url(#ihc)" />
<ellipse cx="515.00" cy="68.00" rx="5.00" ry="8.00" fill="#cdb2a8" filter="url(#ihc)" transform="rotate(-30 515 68)" />
<ellipse cx="522.00" cy="95.00" rx="4.00" ry="6.00" fill="#c9bccb" />
<ellipse cx="508.00" cy="110.00" rx="3.00" ry="3.00" fill="#c2b4c8" />
<ellipse cx="541.50" cy="114.90" rx="6.00" ry="6.00" fill="#b9a3a9" filter="url(#ihc)" />
<path d="M553.00,100.00 C553.67,98.83 556.17,97.67 557.00,99.00 C557.83,100.33 558.33,105.83 558.00,108.00 C557.67,110.17 555.83,112.33 555.00,112.00 C554.17,111.67 553.33,108.00 553.00,106.00 C552.67,104.00 552.33,101.17 553.00,100.00Z" fill="#a27458" />
<path d="M565.10,99.10 C566.08,95.27 572.43,91.50 573.90,95.00 C575.37,98.50 574.88,116.27 573.90,120.10 C572.92,123.93 569.47,121.50 568.00,118.00 C566.53,114.50 564.12,102.93 565.10,99.10Z" fill="#e6dcd6" filter="url(#ihc)" />
</g>
<rect x="523.10" y="113.10" width="4.00" height="3.70" fill="none" stroke="#111" stroke-width="1"/>
<clipPath id="ci5"><rect x="533.20" y="21.50" width="40.70" height="39.90"/></clipPath>
<g clip-path="url(#ci5)"><rect x="533.20" y="21.50" width="40.70" height="39.90" fill="#d6b092" filter="url(#ins)"/>
<g filter="url(#nb)">
<ellipse cx="558.06" cy="50.13" rx="3.11" ry="2.78" fill="#6e7cc0" transform="rotate(16.4 558.06 50.13)"/>
<ellipse cx="564.38" cy="57.33" rx="3.01" ry="3.33" fill="#7882c0" transform="rotate(35.9 564.38 57.33)"/>
<ellipse cx="536.26" cy="40.22" rx="3.95" ry="2.22" fill="#7882c0" transform="rotate(23.0 536.26 40.22)"/>
<ellipse cx="569.82" cy="46.80" rx="3.20" ry="3.21" fill="#6474bc" transform="rotate(-3.8 569.82 46.80)"/>
<ellipse cx="568.26" cy="27.56" rx="2.89" ry="3.35" fill="#6e7cc0" transform="rotate(-24.3 568.26 27.56)"/>
<ellipse cx="552.41" cy="32.35" rx="4.09" ry="3.33" fill="#7882c0" transform="rotate(-12.4 552.41 32.35)"/>
<ellipse cx="555.16" cy="44.10" rx="4.03" ry="2.50" fill="#6474bc" transform="rotate(-3.0 555.16 44.10)"/>
<ellipse cx="535.68" cy="31.28" rx="3.80" ry="3.16" fill="#6e7cc0" transform="rotate(28.8 535.68 31.28)"/>
<ellipse cx="545.46" cy="56.40" rx="3.29" ry="3.37" fill="#6474bc" transform="rotate(-23.3 545.46 56.40)"/>
<ellipse cx="557.86" cy="28.05" rx="3.58" ry="3.30" fill="#6474bc" transform="rotate(-12.8 557.86 28.05)"/>
<ellipse cx="535.27" cy="54.78" rx="3.47" ry="2.57" fill="#6e7cc0" transform="rotate(-14.7 535.27 54.78)"/>
<ellipse cx="542.89" cy="31.24" rx="3.88" ry="2.95" fill="#7882c0" transform="rotate(17.7 542.89 31.24)"/>
<ellipse cx="571.25" cy="54.82" rx="4.19" ry="2.39" fill="#6474bc" transform="rotate(-36.1 571.25 54.82)"/>
<ellipse cx="568.00" cy="34.23" rx="3.45" ry="2.69" fill="#6474bc" transform="rotate(-21.0 568.00 34.23)"/>
<ellipse cx="546.26" cy="45.15" rx="3.15" ry="2.50" fill="#6e7cc0" transform="rotate(12.1 546.26 45.15)"/>
<ellipse cx="535.32" cy="47.84" rx="2.69" ry="3.30" fill="#7882c0" transform="rotate(-37.4 535.32 47.84)"/>
<ellipse cx="565.24" cy="40.76" rx="3.13" ry="2.45" fill="#6474bc" transform="rotate(38.5 565.24 40.76)"/>
<ellipse cx="563.20" cy="27.50" rx="3" ry="6" fill="#f4eee8"/>
</g>
<path d="M533.20,61.40 L533.20,21.50 L573.90,21.50" fill="none" stroke="#8a8a8a" stroke-width="0.8"/></g>
<g clip-path="url(#cB2)">
<path d="M625.40,21.70 C624.85,24.78 618.70,36.70 618.70,40.20 C618.70,43.70 623.30,43.27 625.40,42.70 C627.50,42.13 628.78,37.92 631.30,36.80 C633.82,35.68 637.70,35.43 640.50,36.00 C643.30,36.57 646.70,38.52 648.10,40.20 C649.50,41.88 649.33,44.28 648.90,46.10 C648.47,47.92 646.77,49.72 645.50,51.10 C644.23,52.48 642.13,52.30 641.30,54.40 C640.47,56.50 641.05,61.60 640.50,63.70 C639.95,65.80 638.00,65.32 638.00,67.00 C638.00,68.68 640.65,71.28 640.50,73.80 C640.35,76.32 638.50,78.75 637.10,82.10 C635.70,85.45 634.05,89.98 632.10,93.90 C630.15,97.82 627.63,101.97 625.40,105.60 C623.17,109.23 620.52,112.90 618.70,115.70 C616.88,118.50 616.18,121.00 614.50,122.40 C612.82,123.80 610.42,124.65 608.60,124.10 C606.78,123.55 604.72,122.18 603.60,119.10 C602.48,116.02 602.75,111.20 601.90,105.60 C601.05,100.00 599.62,91.65 598.50,85.50 C597.38,79.35 596.03,72.90 595.20,68.70 C594.37,64.50 594.90,62.82 593.50,60.30 C592.10,57.78 588.20,55.27 586.80,53.60 C585.40,51.93 584.27,51.42 585.10,50.30 C585.93,49.18 589.28,48.58 591.80,46.90 C594.32,45.22 597.40,42.43 600.20,40.20 C603.00,37.97 605.80,35.47 608.60,33.50 C611.40,31.53 614.77,30.37 617.00,28.40 C619.23,26.43 620.60,22.82 622.00,21.70 C623.40,20.58 625.95,18.62 625.40,21.70Z" fill="#bcb0bc" filter="url(#ihc)" />
<path d="M630.40,37.50 C632.15,36.17 637.55,35.55 640.50,36.00 C643.45,36.45 646.70,38.52 648.10,40.20 C649.50,41.88 649.33,44.28 648.90,46.10 C648.47,47.92 646.77,49.72 645.50,51.10 C644.23,52.48 642.88,53.25 641.30,54.40 C639.72,55.55 637.72,58.40 636.00,58.00 C634.28,57.60 632.00,54.33 631.00,52.00 C630.00,49.67 630.10,46.42 630.00,44.00 C629.90,41.58 628.65,38.83 630.40,37.50Z" fill="#8e7c8c" filter="url(#ihc)" />
<path d="M630.50,70.50 C631.72,68.42 633.22,69.25 632.80,71.50 C632.38,73.75 630.05,79.08 628.00,84.00 C625.95,88.92 622.75,95.83 620.50,101.00 C618.25,106.17 615.67,112.75 614.50,115.00 C613.33,117.25 612.83,117.00 613.50,114.50 C614.17,112.00 616.50,105.08 618.50,100.00 C620.50,94.92 623.50,88.92 625.50,84.00 C627.50,79.08 629.28,72.58 630.50,70.50Z" fill="#efeef2" />
<ellipse cx="604.00" cy="80.00" rx="3.00" ry="3.00" fill="#8a7888" />
<ellipse cx="612.00" cy="88.00" rx="2.50" ry="2.50" fill="#8a7888" />
<ellipse cx="606.00" cy="50.00" rx="2.50" ry="2.50" fill="#8a7888" />
<ellipse cx="615.00" cy="65.00" rx="2.00" ry="2.00" fill="#8a7888" />
</g>
<rect x="633.00" y="46.60" width="3.60" height="3.00" fill="none" stroke="#111" stroke-width="1"/>
<clipPath id="ci7"><rect x="644.20" y="91.40" width="40.80" height="39.40"/></clipPath>
<g clip-path="url(#ci7)"><rect x="644.20" y="91.40" width="40.80" height="39.40" fill="#c0aea6" filter="url(#ins)"/>
<g filter="url(#nb)">
<ellipse cx="658.12" cy="98.74" rx="3.51" ry="2.76" fill="#7a6aa4" transform="rotate(23.6 658.12 98.74)"/>
<ellipse cx="670.15" cy="95.96" rx="4.00" ry="2.69" fill="#7a6aa4" transform="rotate(6.0 670.15 95.96)"/>
<ellipse cx="665.92" cy="106.35" rx="3.65" ry="3.45" fill="#7a6aa4" transform="rotate(18.4 665.92 106.35)"/>
<ellipse cx="648.33" cy="111.36" rx="3.18" ry="3.58" fill="#7a6aa4" transform="rotate(-30.6 648.33 111.36)"/>
<ellipse cx="648.77" cy="96.61" rx="3.44" ry="3.31" fill="#7a6aa4" transform="rotate(-27.8 648.77 96.61)"/>
<ellipse cx="661.82" cy="122.67" rx="3.58" ry="2.45" fill="#7a6aa4" transform="rotate(13.5 661.82 122.67)"/>
<ellipse cx="669.29" cy="126.95" rx="4.13" ry="3.09" fill="#7a6aa4" transform="rotate(30.0 669.29 126.95)"/>
<ellipse cx="682.13" cy="95.05" rx="3.23" ry="3.23" fill="#7a6aa4" transform="rotate(7.5 682.13 95.05)"/>
<ellipse cx="677.79" cy="103.65" rx="3.76" ry="2.95" fill="#7a6aa4" transform="rotate(27.2 677.79 103.65)"/>
<ellipse cx="657.76" cy="114.13" rx="4.49" ry="2.97" fill="#7a6aa4" transform="rotate(13.1 657.76 114.13)"/>
<ellipse cx="650.20" cy="101.40" rx="4.5" ry="5.5" fill="#fbf8f6"/>
<ellipse cx="660.20" cy="101.40" rx="2" ry="4.5" fill="#8a4a1e"/>
</g>
<path d="M644.20,130.80 L644.20,91.40 L685.00,91.40" fill="none" stroke="#8a8a8a" stroke-width="0.8"/></g>
<g clip-path="url(#cB3)">
<path d="M392.00,144.60 C393.75,143.28 402.53,141.53 407.80,141.10 C413.07,140.67 418.35,141.27 423.60,142.00 C428.85,142.73 434.63,144.03 439.30,145.50 C443.97,146.97 448.38,148.75 451.60,150.80 C454.82,152.85 456.85,154.60 458.60,157.80 C460.35,161.00 462.68,166.20 462.10,170.00 C461.52,173.80 457.43,177.38 455.10,180.60 C452.77,183.82 449.85,186.38 448.10,189.30 C446.35,192.22 445.77,195.77 444.60,198.10 C443.43,200.43 444.60,202.13 441.10,203.30 C437.60,204.47 426.82,203.05 423.60,205.10 C420.38,207.15 422.38,211.52 421.80,215.60 C421.22,219.68 421.55,226.10 420.10,229.60 C418.65,233.10 416.02,235.43 413.10,236.60 C410.18,237.77 407.28,237.18 402.60,236.60 C397.92,236.02 389.68,234.85 385.00,233.10 C380.32,231.35 377.70,229.02 374.50,226.10 C371.30,223.18 368.13,219.10 365.80,215.60 C363.47,212.10 361.53,209.48 360.50,205.10 C359.47,200.72 359.02,194.55 359.60,189.30 C360.18,184.05 362.10,178.27 364.00,173.60 C365.90,168.93 368.08,164.52 371.00,161.30 C373.92,158.08 377.70,155.47 381.50,154.30 C385.30,153.13 391.17,155.18 393.80,154.30 C396.43,153.42 397.60,150.62 397.30,149.00 C397.00,147.38 390.25,145.92 392.00,144.60Z" fill="#e0dce6" filter="url(#ihc)" />
<ellipse cx="438.50" cy="164.00" rx="6.50" ry="6.50" fill="#cdc6de" filter="url(#ihc)" />
<path d="M357.00,136.80 C357.83,134.67 360.83,136.47 362.00,138.00 C363.17,139.53 364.17,143.83 364.00,146.00 C363.83,148.17 362.17,150.20 361.00,151.00 C359.83,151.80 357.67,153.17 357.00,150.80 C356.33,148.43 356.17,138.93 357.00,136.80Z" fill="#e2dee6" filter="url(#ihc)" />
<path d="M362,232 C372,226 385,228 400,236" stroke="#c8c0c8" stroke-width="0.8" fill="none"/>
</g>
<rect x="385.90" y="186.30" width="4.70" height="3.60" fill="none" stroke="#111" stroke-width="1"/>
<clipPath id="ci9"><rect x="423.60" y="204.60" width="40.30" height="39.90"/></clipPath>
<g clip-path="url(#ci9)"><rect x="423.60" y="204.60" width="40.30" height="39.90" fill="#e2e0ea" filter="url(#ins)"/>
<g filter="url(#nb)">
<ellipse cx="442.41" cy="220.00" rx="2.18" ry="2.46" fill="#9a8cc8" transform="rotate(-36.6 442.41 220.00)"/>
<ellipse cx="430.63" cy="237.71" rx="3.15" ry="2.33" fill="#a89cd0" transform="rotate(5.2 430.63 237.71)"/>
<ellipse cx="425.83" cy="224.65" rx="1.94" ry="2.09" fill="#a89cd0" transform="rotate(29.1 425.83 224.65)"/>
<ellipse cx="458.21" cy="209.50" rx="2.38" ry="1.89" fill="#a89cd0" transform="rotate(-24.1 458.21 209.50)"/>
<ellipse cx="445.72" cy="228.74" rx="2.99" ry="2.13" fill="#8e80c0" transform="rotate(8.6 445.72 228.74)"/>
<ellipse cx="451.14" cy="222.83" rx="2.49" ry="1.90" fill="#9a8cc8" transform="rotate(-4.5 451.14 222.83)"/>
<ellipse cx="451.92" cy="212.24" rx="3.10" ry="2.03" fill="#a89cd0" transform="rotate(-17.2 451.92 212.24)"/>
<ellipse cx="434.24" cy="210.58" rx="3.05" ry="1.64" fill="#9a8cc8" transform="rotate(22.5 434.24 210.58)"/>
<ellipse cx="443.98" cy="239.77" rx="2.60" ry="2.59" fill="#a89cd0" transform="rotate(-20.1 443.98 239.77)"/>
<ellipse cx="439.53" cy="233.38" rx="1.91" ry="2.51" fill="#9a8cc8" transform="rotate(-32.3 439.53 233.38)"/>
<ellipse cx="429.29" cy="217.05" rx="2.62" ry="2.94" fill="#8e80c0" transform="rotate(4.8 429.29 217.05)"/>
<ellipse cx="440.91" cy="209.75" rx="2.87" ry="1.84" fill="#9a8cc8" transform="rotate(27.5 440.91 209.75)"/>
<ellipse cx="426.23" cy="209.65" rx="1.85" ry="2.92" fill="#9a8cc8" transform="rotate(24.8 426.23 209.65)"/>
<ellipse cx="435.34" cy="242.32" rx="3.31" ry="2.98" fill="#8e80c0" transform="rotate(8.5 435.34 242.32)"/>
<ellipse cx="451.21" cy="240.74" rx="1.88" ry="2.23" fill="#9a8cc8" transform="rotate(22.9 451.21 240.74)"/>
</g>
<path d="M423.60,244.50 L423.60,204.60 L463.90,204.60" fill="none" stroke="#8a8a8a" stroke-width="0.8"/></g>
<g clip-path="url(#cB4)">
<path d="M540.60,136.80 C542.07,136.22 545.55,138.27 547.60,140.30 C549.65,142.33 551.58,146.82 552.90,149.00 C554.22,151.18 554.33,152.52 555.50,153.40 C556.67,154.28 558.30,152.12 559.90,154.30 C561.50,156.48 563.93,162.12 565.10,166.50 C566.27,170.88 567.18,175.92 566.90,180.60 C566.62,185.28 565.45,190.82 563.40,194.60 C561.35,198.38 559.57,201.55 554.60,203.30 C549.63,205.05 538.27,203.05 533.60,205.10 C528.93,207.15 528.07,212.10 526.60,215.60 C525.13,219.10 525.68,223.18 524.80,226.10 C523.92,229.02 522.47,231.05 521.30,233.10 C520.13,235.15 521.02,237.82 517.80,238.40 C514.58,238.98 505.80,238.07 502.00,236.60 C498.20,235.13 497.33,231.93 495.00,229.60 C492.67,227.27 490.03,225.52 488.00,222.60 C485.97,219.68 484.55,215.60 482.80,212.10 C481.05,208.60 479.55,204.52 477.50,201.60 C475.45,198.68 472.10,198.10 470.50,194.60 C468.90,191.10 468.18,184.70 467.90,180.60 C467.62,176.50 467.20,172.35 468.80,170.00 C470.40,167.65 474.58,167.67 477.50,166.50 C480.42,165.33 483.38,164.02 486.30,163.00 C489.22,161.98 491.20,160.98 495.00,160.40 C498.80,159.82 504.72,159.50 509.10,159.50 C513.48,159.50 517.22,160.40 521.30,160.40 C525.38,160.40 530.68,160.52 533.60,159.50 C536.52,158.48 537.93,156.92 538.80,154.30 C539.67,151.68 538.50,146.72 538.80,143.80 C539.10,140.88 539.13,137.38 540.60,136.80Z" fill="#d8c4bc" filter="url(#ihc)" />
<ellipse cx="493.00" cy="181.00" rx="14.00" ry="15.00" fill="#c6c0d8" filter="url(#db)"/>
<ellipse cx="497.00" cy="229.50" rx="5.50" ry="2.20" fill="#6e76b4" />
<line x1="560" y1="152" x2="558" y2="200" stroke="#faf8f6" stroke-width="1.2"/>
</g>
<rect x="498.20" y="178.80" width="4.70" height="4.10" fill="none" stroke="#111" stroke-width="1"/>
<clipPath id="ci11"><rect x="533.60" y="204.60" width="40.30" height="39.80"/></clipPath>
<g clip-path="url(#ci11)"><rect x="533.60" y="204.60" width="40.30" height="39.80" fill="#eed4bc" filter="url(#ins)"/>
<g filter="url(#nb)">
<ellipse cx="552.02" cy="226.64" rx="2.20" ry="3.94" fill="#6078c4" transform="rotate(30.6 552.02 226.64)"/>
<ellipse cx="569.15" cy="223.27" rx="2.08" ry="2.86" fill="#6078c4" transform="rotate(-31.3 569.15 223.27)"/>
<ellipse cx="542.30" cy="224.93" rx="2.96" ry="3.09" fill="#7088cc" transform="rotate(16.4 542.30 224.93)"/>
<ellipse cx="558.46" cy="234.99" rx="2.42" ry="3.89" fill="#6078c4" transform="rotate(-0.7 558.46 234.99)"/>
<ellipse cx="539.02" cy="217.46" rx="2.18" ry="3.66" fill="#6a80c8" transform="rotate(-34.5 539.02 217.46)"/>
<ellipse cx="538.89" cy="235.59" rx="2.48" ry="3.58" fill="#6a80c8" transform="rotate(9.3 538.89 235.59)"/>
<ellipse cx="560.77" cy="208.10" rx="2.28" ry="3.90" fill="#6a80c8" transform="rotate(-23.7 560.77 208.10)"/>
<ellipse cx="571.25" cy="241.14" rx="2.07" ry="3.29" fill="#6a80c8" transform="rotate(-20.1 571.25 241.14)"/>
<ellipse cx="559.34" cy="228.64" rx="2.18" ry="3.24" fill="#6a80c8" transform="rotate(5.8 559.34 228.64)"/>
<ellipse cx="541.32" cy="207.14" rx="2.09" ry="2.97" fill="#7088cc" transform="rotate(-4.0 541.32 207.14)"/>
<ellipse cx="551.59" cy="236.76" rx="2.66" ry="3.63" fill="#6a80c8" transform="rotate(6.8 551.59 236.76)"/>
<ellipse cx="552.20" cy="216.56" rx="2.59" ry="3.91" fill="#7088cc" transform="rotate(-2.0 552.20 216.56)"/>
<ellipse cx="566.10" cy="231.94" rx="2.70" ry="3.96" fill="#6078c4" transform="rotate(-38.3 566.10 231.94)"/>
<ellipse cx="563.86" cy="216.26" rx="2.07" ry="2.88" fill="#6a80c8" transform="rotate(-15.1 563.86 216.26)"/>
<ellipse cx="539.24" cy="242.02" rx="3.00" ry="2.89" fill="#6078c4" transform="rotate(3.7 539.24 242.02)"/>
<ellipse cx="544.66" cy="213.39" rx="2.04" ry="3.92" fill="#6a80c8" transform="rotate(19.0 544.66 213.39)"/>
<ellipse cx="562.44" cy="240.27" rx="2.79" ry="3.90" fill="#6078c4" transform="rotate(-11.9 562.44 240.27)"/>
</g>
<path d="M533.60,244.40 L533.60,204.60 L573.90,204.60" fill="none" stroke="#8a8a8a" stroke-width="0.8"/></g>
<g clip-path="url(#cB5)">
<path d="M602.70,152.30 C603.82,151.17 612.65,149.22 617.00,148.10 C621.35,146.98 624.60,146.28 628.80,145.60 C633.00,144.92 638.02,144.13 642.20,144.00 C646.38,143.87 651.38,143.83 653.90,144.80 C656.42,145.77 656.87,147.00 657.30,149.80 C657.73,152.60 657.33,158.23 656.50,161.60 C655.67,164.97 653.28,167.20 652.30,170.00 C651.32,172.80 651.17,175.60 650.60,178.40 C650.03,181.20 647.78,185.68 648.90,186.80 C650.02,187.92 653.67,185.25 657.30,185.10 C660.93,184.95 666.78,184.78 670.70,185.90 C674.62,187.02 678.42,189.70 680.80,191.80 C683.18,193.90 684.30,196.27 685.00,198.50 C685.70,200.73 687.38,203.80 685.00,205.20 C682.62,206.60 675.32,206.33 670.70,206.90 C666.08,207.47 661.50,207.20 657.30,208.60 C653.10,210.00 648.87,213.48 645.50,215.30 C642.13,217.12 639.88,218.95 637.10,219.50 C634.32,220.05 631.58,219.02 628.80,218.60 C626.02,218.18 623.48,218.12 620.40,217.00 C617.32,215.88 614.22,213.30 610.30,211.90 C606.38,210.50 600.53,210.27 596.90,208.60 C593.27,206.93 590.75,204.70 588.50,201.90 C586.25,199.10 584.38,195.72 583.40,191.80 C582.42,187.88 582.32,182.32 582.60,178.40 C582.88,174.48 583.57,170.82 585.10,168.30 C586.63,165.78 589.28,164.57 591.80,163.30 C594.32,162.03 597.12,161.13 600.20,160.70 C603.28,160.27 607.22,160.55 610.30,160.70 C613.38,160.85 618.70,162.57 618.70,161.60 C618.70,160.63 612.97,156.45 610.30,154.90 C607.63,153.35 601.58,153.43 602.70,152.30Z" fill="#a89aa8" filter="url(#ihc)" />
<ellipse cx="605.50" cy="190.00" rx="22.00" ry="27.00" fill="#9d8e98" filter="url(#ihc)" />
<ellipse cx="642.00" cy="196.00" rx="9.00" ry="11.00" fill="#a0929e" filter="url(#ihc)" />
<path d="M650.00,188.00 C653.45,185.65 665.57,185.27 670.70,185.90 C675.83,186.53 678.42,189.70 680.80,191.80 C683.18,193.90 684.30,196.27 685.00,198.50 C685.70,200.73 687.38,203.80 685.00,205.20 C682.62,206.60 675.32,206.33 670.70,206.90 C666.08,207.47 660.75,209.75 657.30,208.60 C653.85,207.45 651.22,203.43 650.00,200.00 C648.78,196.57 646.55,190.35 650.00,188.00Z" fill="#9a92ae" filter="url(#ihc)" />
<path d="M577.60,207.00 C579.67,201.30 585.43,207.50 590.00,210.00 C594.57,212.50 600.00,218.33 605.00,222.00 C610.00,225.67 616.83,228.30 620.00,232.00 C623.17,235.70 631.07,242.17 624.00,244.20 C616.93,246.23 585.33,250.40 577.60,244.20 C569.87,238.00 575.53,212.70 577.60,207.00Z" fill="#dcd6dc" filter="url(#ihc)" />
</g>
<rect x="592.90" y="176.90" width="3.80" height="4.20" fill="none" stroke="#111" stroke-width="1"/>
<clipPath id="ci13"><rect x="644.70" y="204.40" width="40.30" height="39.80"/></clipPath>
<g clip-path="url(#ci13)"><rect x="644.70" y="204.40" width="40.30" height="39.80" fill="#cdbcb6" filter="url(#ins)"/>
<g filter="url(#nb)">
<ellipse cx="649.70" cy="224.40" rx="4" ry="6" fill="#a06a44"/>
<ellipse cx="680.70" cy="210.40" rx="4" ry="4" fill="#7a4420"/>
<ellipse cx="656.10" cy="230.93" rx="4.62" ry="4.11" fill="#b07a52" transform="rotate(26.1 656.10 230.93)"/>
<ellipse cx="671.53" cy="236.81" rx="4.90" ry="4.09" fill="#a0643a" transform="rotate(-19.5 671.53 236.81)"/>
<ellipse cx="653.44" cy="214.65" rx="3.97" ry="4.01" fill="#b07a52" transform="rotate(5.1 653.44 214.65)"/>
<ellipse cx="673.35" cy="211.06" rx="4.34" ry="4.28" fill="#93582c" transform="rotate(11.1 673.35 211.06)"/>
<ellipse cx="665.99" cy="214.06" rx="3.69" ry="3.69" fill="#8a4e24" transform="rotate(10.7 665.99 214.06)"/>
<ellipse cx="657.40" cy="221.85" rx="4.38" ry="3.61" fill="#a0643a" transform="rotate(19.9 657.40 221.85)"/>
<ellipse cx="677.11" cy="228.18" rx="3.88" ry="3.96" fill="#8a4e24" transform="rotate(2.9 677.11 228.18)"/>
<ellipse cx="647.22" cy="216.27" rx="3.41" ry="3.55" fill="#b07a52" transform="rotate(-19.7 647.22 216.27)"/>
<ellipse cx="652.03" cy="237.59" rx="3.52" ry="3.06" fill="#b07a52" transform="rotate(31.1 652.03 237.59)"/>
<ellipse cx="657.70" cy="212.40" rx="5" ry="3.5" fill="#7468b0"/>
<ellipse cx="669.70" cy="234.40" rx="3.5" ry="3" fill="#6a5aa8"/>
<ellipse cx="652.70" cy="218.40" rx="3" ry="2" fill="#7060a8"/>
</g>
<path d="M644.70,244.20 L644.70,204.40 L685.00,204.40" fill="none" stroke="#8a8a8a" stroke-width="0.8"/></g>
<rect x="356.80" y="21.30" width="106.90" height="109.90" fill="none" stroke="#c6c6c8" stroke-width="0.9" />
<rect x="466.70" y="21.40" width="107.20" height="109.80" fill="none" stroke="#c6c6c8" stroke-width="0.9" />
<rect x="577.60" y="21.40" width="107.40" height="109.40" fill="none" stroke="#c6c6c8" stroke-width="0.9" />
<rect x="357.00" y="134.50" width="106.90" height="110.00" fill="none" stroke="#c6c6c8" stroke-width="0.9" />
<rect x="466.70" y="134.50" width="107.20" height="109.90" fill="none" stroke="#c6c6c8" stroke-width="0.9" />
<rect x="577.60" y="134.40" width="107.40" height="109.80" fill="none" stroke="#c6c6c8" stroke-width="0.9" />
<defs><filter id="bl" x="-20%" y="-50%" width="140%" height="200%"><feGaussianBlur stdDeviation="0.9"/></filter><filter id="bl2" x="-20%" y="-50%" width="140%" height="200%"><feGaussianBlur stdDeviation="1.3"/></filter></defs>
<text transform="translate(85.00,685.40) rotate(-40)" font-size="10">KP5</text>
<text transform="translate(114.40,685.40) rotate(-40)" font-size="10">KP6</text>
<text transform="translate(142.80,685.40) rotate(-40)" font-size="10">KPP4</text>
<text transform="translate(168.40,685.40) rotate(-40)" font-size="10">KPP8</text>
<rect x="71.40" y="692.20" width="115.20" height="34.00" fill="#e3e3e3" stroke="#111" stroke-width="1.4" />
<rect x="76.50" y="704.50" width="28.50" height="9.40" rx="4.70" fill="#050505" opacity="1" filter="url(#bl)"/>
<rect x="106.00" y="704.50" width="27.50" height="9.40" rx="4.70" fill="#050505" opacity="1" filter="url(#bl)"/>
<rect x="71.40" y="733.80" width="115.20" height="33.60" fill="#e0e0e0" stroke="#111" stroke-width="1.4" />
<rect x="77.00" y="746.60" width="27.70" height="7.60" rx="3.80" fill="#111" opacity="1" filter="url(#bl)"/>
<rect x="106.50" y="747.20" width="26.70" height="7.60" rx="3.80" fill="#111" opacity="1" filter="url(#bl)"/>
<rect x="136.30" y="747.20" width="23.90" height="7.60" rx="3.80" fill="#111" opacity="1" filter="url(#bl)"/>
<rect x="162.70" y="747.20" width="22.60" height="7.60" rx="3.80" fill="#111" opacity="1" filter="url(#bl)"/>
<rect x="71.40" y="775.50" width="115.20" height="26.90" fill="#e2e2e2" stroke="#111" stroke-width="1.4" />
<rect x="76.50" y="786.50" width="27.50" height="5.00" rx="2.50" fill="#d6d6d6" opacity="1" filter="url(#bl2)"/>
<rect x="106.50" y="786.05" width="26.50" height="5.50" rx="2.75" fill="#8e8e8e" opacity="1" filter="url(#bl2)"/>
<rect x="135.50" y="784.40" width="25.00" height="6.80" rx="3.40" fill="#151515" opacity="1" filter="url(#bl)"/>
<rect x="162.50" y="786.80" width="22.50" height="7.00" rx="3.50" fill="#0a0a0a" opacity="1" filter="url(#bl)"/>
<rect x="71.40" y="808.20" width="115.20" height="37.40" fill="#dfdfdf" stroke="#111" stroke-width="1.4" />
<rect x="77.50" y="824.50" width="26.50" height="5.60" rx="2.80" fill="#2a2a2a" opacity="1" filter="url(#bl)"/>
<rect x="107.00" y="824.50" width="25.50" height="5.60" rx="2.80" fill="#2a2a2a" opacity="1" filter="url(#bl)"/>
<rect x="136.80" y="824.50" width="22.70" height="5.60" rx="2.80" fill="#2a2a2a" opacity="1" filter="url(#bl)"/>
<rect x="163.20" y="824.50" width="21.40" height="5.60" rx="2.80" fill="#2a2a2a" opacity="1" filter="url(#bl)"/>
<text x="35.40" y="712.60" font-size="9.3" fill="#000" text-anchor="start" font-weight="normal" font-style="normal" >PTEN</text>
<text x="35.40" y="752.00" font-size="9.3" fill="#000" text-anchor="start" font-weight="normal" font-style="normal" >AKT</text>
<text x="35.40" y="791.80" font-size="9.3" fill="#000" text-anchor="start" font-weight="normal" font-style="normal" >p-AKT</text>
<text x="35.40" y="829.20" font-size="9.3" fill="#000" text-anchor="start" font-weight="normal" font-style="normal" >actin</text>
<line x1="186.60" y1="707.60" x2="201.80" y2="707.60" stroke="#000" stroke-width="1.8" />
<text x="204.40" y="711.00" font-size="9.5" fill="#000" text-anchor="start" font-weight="normal" font-style="normal" >55 kD</text>
<line x1="186.60" y1="750.40" x2="201.80" y2="750.40" stroke="#000" stroke-width="1.8" />
<text x="204.40" y="753.80" font-size="9.5" fill="#000" text-anchor="start" font-weight="normal" font-style="normal" >60 kD</text>
<line x1="186.60" y1="789.60" x2="201.80" y2="789.60" stroke="#000" stroke-width="1.8" />
<text x="204.40" y="793.00" font-size="9.5" fill="#000" text-anchor="start" font-weight="normal" font-style="normal" >60 kD</text>
<line x1="186.60" y1="826.80" x2="201.80" y2="826.80" stroke="#000" stroke-width="1.8" />
<text x="204.40" y="830.20" font-size="9.5" fill="#000" text-anchor="start" font-weight="normal" font-style="normal" >42 kD</text>
<text transform="translate(83.40,910.90) rotate(-40)" font-size="10">KP6</text>
<text transform="translate(110.40,910.90) rotate(-40)" font-size="10">KPP4</text>
<text transform="translate(138.80,910.90) rotate(-40)" font-size="10">KPP4</text>
<text transform="translate(144.40,917.20) rotate(-40)" font-size="10">+PTEN</text>
<rect x="72.40" y="921.00" width="87.20" height="31.60" fill="#fcfcfc" stroke="#111" stroke-width="1.4" />
<rect x="76.00" y="935.90" width="24.50" height="7.00" rx="3.50" fill="#6f6f6f" opacity="1" filter="url(#bl2)"/>
<rect x="133.00" y="934.30" width="25.60" height="8.60" rx="4.30" fill="#050505" opacity="1" filter="url(#bl)"/>
<rect x="72.40" y="969.00" width="87.20" height="32.40" fill="#fafafa" stroke="#111" stroke-width="1.4" />
<rect x="74.80" y="980.60" width="24.20" height="7.20" rx="3.60" fill="#141414" opacity="1" filter="url(#bl)"/>
<rect x="104.00" y="980.90" width="25.80" height="6.60" rx="3.30" fill="#1e1e1e" opacity="1" filter="url(#bl)"/>
<rect x="133.00" y="981.30" width="24.80" height="6.60" rx="3.30" fill="#262626" opacity="1" filter="url(#bl)"/>
<text x="41.20" y="944.10" font-size="9.3" fill="#000" text-anchor="start" font-weight="normal" font-style="normal" >PTEN</text>
<text x="41.20" y="987.10" font-size="9.3" fill="#000" text-anchor="start" font-weight="normal" font-style="normal" >actin</text>
<line x1="159.60" y1="937.70" x2="174.50" y2="937.70" stroke="#000" stroke-width="1.8" />
<text x="177.70" y="941.10" font-size="9.5" fill="#000" text-anchor="start" font-weight="normal" font-style="normal" >55 kD</text>
<line x1="159.60" y1="984.50" x2="174.50" y2="984.50" stroke="#000" stroke-width="1.8" />
<text x="177.70" y="987.90" font-size="9.5" fill="#000" text-anchor="start" font-weight="normal" font-style="normal" >42 kD</text>
<rect x="369.2" y="291.0" width="271.7" height="199.60000000000002" fill="none" stroke="#000" stroke-width="1.4"/>
<line x1="397.00" y1="490.60" x2="397.00" y2="494.80" stroke="#000" stroke-width="1.1" />
<line x1="397.00" y1="291.00" x2="397.00" y2="295.20" stroke="#000" stroke-width="1.1" />
<line x1="451.20" y1="490.60" x2="451.20" y2="494.80" stroke="#000" stroke-width="1.1" />
<line x1="451.20" y1="291.00" x2="451.20" y2="295.20" stroke="#000" stroke-width="1.1" />
<line x1="505.40" y1="490.60" x2="505.40" y2="494.80" stroke="#000" stroke-width="1.1" />
<line x1="505.40" y1="291.00" x2="505.40" y2="295.20" stroke="#000" stroke-width="1.1" />
<line x1="559.60" y1="490.60" x2="559.60" y2="494.80" stroke="#000" stroke-width="1.1" />
<line x1="559.60" y1="291.00" x2="559.60" y2="295.20" stroke="#000" stroke-width="1.1" />
<line x1="613.80" y1="490.60" x2="613.80" y2="494.80" stroke="#000" stroke-width="1.1" />
<line x1="613.80" y1="291.00" x2="613.80" y2="295.20" stroke="#000" stroke-width="1.1" />
<line x1="378.84" y1="490.60" x2="378.84" y2="493.00" stroke="#000" stroke-width="1.1" />
<line x1="378.84" y1="291.00" x2="378.84" y2="293.40" stroke="#000" stroke-width="1.1" />
<line x1="433.04" y1="490.60" x2="433.04" y2="493.00" stroke="#000" stroke-width="1.1" />
<line x1="433.04" y1="291.00" x2="433.04" y2="293.40" stroke="#000" stroke-width="1.1" />
<line x1="487.24" y1="490.60" x2="487.24" y2="493.00" stroke="#000" stroke-width="1.1" />
<line x1="487.24" y1="291.00" x2="487.24" y2="293.40" stroke="#000" stroke-width="1.1" />
<line x1="541.44" y1="490.60" x2="541.44" y2="493.00" stroke="#000" stroke-width="1.1" />
<line x1="541.44" y1="291.00" x2="541.44" y2="293.40" stroke="#000" stroke-width="1.1" />
<line x1="595.64" y1="490.60" x2="595.64" y2="493.00" stroke="#000" stroke-width="1.1" />
<line x1="595.64" y1="291.00" x2="595.64" y2="293.40" stroke="#000" stroke-width="1.1" />
<text x="397.00" y="506.20" font-size="11.5" fill="#111" text-anchor="middle" font-weight="normal" font-style="normal" >0</text>
<text x="451.20" y="506.20" font-size="11.5" fill="#111" text-anchor="middle" font-weight="normal" font-style="normal" >2</text>
<text x="505.40" y="506.20" font-size="11.5" fill="#111" text-anchor="middle" font-weight="normal" font-style="normal" >4</text>
<text x="559.60" y="506.20" font-size="11.5" fill="#111" text-anchor="middle" font-weight="normal" font-style="normal" >6</text>
<text x="613.80" y="506.20" font-size="11.5" fill="#111" text-anchor="middle" font-weight="normal" font-style="normal" >8</text>
<line x1="366.80" y1="472.89" x2="369.20" y2="472.89" stroke="#000" stroke-width="1.1" />
<line x1="638.50" y1="472.89" x2="640.90" y2="472.89" stroke="#000" stroke-width="1.1" />
<line x1="366.80" y1="462.23" x2="369.20" y2="462.23" stroke="#000" stroke-width="1.1" />
<line x1="638.50" y1="462.23" x2="640.90" y2="462.23" stroke="#000" stroke-width="1.1" />
<line x1="366.80" y1="454.68" x2="369.20" y2="454.68" stroke="#000" stroke-width="1.1" />
<line x1="638.50" y1="454.68" x2="640.90" y2="454.68" stroke="#000" stroke-width="1.1" />
<line x1="366.80" y1="448.81" x2="369.20" y2="448.81" stroke="#000" stroke-width="1.1" />
<line x1="638.50" y1="448.81" x2="640.90" y2="448.81" stroke="#000" stroke-width="1.1" />
<line x1="366.80" y1="444.02" x2="369.20" y2="444.02" stroke="#000" stroke-width="1.1" />
<line x1="638.50" y1="444.02" x2="640.90" y2="444.02" stroke="#000" stroke-width="1.1" />
<line x1="366.80" y1="439.97" x2="369.20" y2="439.97" stroke="#000" stroke-width="1.1" />
<line x1="638.50" y1="439.97" x2="640.90" y2="439.97" stroke="#000" stroke-width="1.1" />
<line x1="366.80" y1="436.46" x2="369.20" y2="436.46" stroke="#000" stroke-width="1.1" />
<line x1="638.50" y1="436.46" x2="640.90" y2="436.46" stroke="#000" stroke-width="1.1" />
<line x1="366.80" y1="433.37" x2="369.20" y2="433.37" stroke="#000" stroke-width="1.1" />
<line x1="638.50" y1="433.37" x2="640.90" y2="433.37" stroke="#000" stroke-width="1.1" />
<line x1="365.00" y1="430.60" x2="369.20" y2="430.60" stroke="#000" stroke-width="1.1" />
<line x1="636.70" y1="430.60" x2="640.90" y2="430.60" stroke="#000" stroke-width="1.1" />
<line x1="366.80" y1="412.39" x2="369.20" y2="412.39" stroke="#000" stroke-width="1.1" />
<line x1="638.50" y1="412.39" x2="640.90" y2="412.39" stroke="#000" stroke-width="1.1" />
<line x1="366.80" y1="401.73" x2="369.20" y2="401.73" stroke="#000" stroke-width="1.1" />
<line x1="638.50" y1="401.73" x2="640.90" y2="401.73" stroke="#000" stroke-width="1.1" />
<line x1="366.80" y1="394.18" x2="369.20" y2="394.18" stroke="#000" stroke-width="1.1" />
<line x1="638.50" y1="394.18" x2="640.90" y2="394.18" stroke="#000" stroke-width="1.1" />
<line x1="366.80" y1="388.31" x2="369.20" y2="388.31" stroke="#000" stroke-width="1.1" />
<line x1="638.50" y1="388.31" x2="640.90" y2="388.31" stroke="#000" stroke-width="1.1" />
<line x1="366.80" y1="383.52" x2="369.20" y2="383.52" stroke="#000" stroke-width="1.1" />
<line x1="638.50" y1="383.52" x2="640.90" y2="383.52" stroke="#000" stroke-width="1.1" />
<line x1="366.80" y1="379.47" x2="369.20" y2="379.47" stroke="#000" stroke-width="1.1" />
<line x1="638.50" y1="379.47" x2="640.90" y2="379.47" stroke="#000" stroke-width="1.1" />
<line x1="366.80" y1="375.96" x2="369.20" y2="375.96" stroke="#000" stroke-width="1.1" />
<line x1="638.50" y1="375.96" x2="640.90" y2="375.96" stroke="#000" stroke-width="1.1" />
<line x1="366.80" y1="372.87" x2="369.20" y2="372.87" stroke="#000" stroke-width="1.1" />
<line x1="638.50" y1="372.87" x2="640.90" y2="372.87" stroke="#000" stroke-width="1.1" />
<line x1="365.00" y1="370.10" x2="369.20" y2="370.10" stroke="#000" stroke-width="1.1" />
<line x1="636.70" y1="370.10" x2="640.90" y2="370.10" stroke="#000" stroke-width="1.1" />
<line x1="366.80" y1="351.89" x2="369.20" y2="351.89" stroke="#000" stroke-width="1.1" />
<line x1="638.50" y1="351.89" x2="640.90" y2="351.89" stroke="#000" stroke-width="1.1" />
<line x1="366.80" y1="341.23" x2="369.20" y2="341.23" stroke="#000" stroke-width="1.1" />
<line x1="638.50" y1="341.23" x2="640.90" y2="341.23" stroke="#000" stroke-width="1.1" />
<line x1="366.80" y1="333.68" x2="369.20" y2="333.68" stroke="#000" stroke-width="1.1" />
<line x1="638.50" y1="333.68" x2="640.90" y2="333.68" stroke="#000" stroke-width="1.1" />
<line x1="366.80" y1="327.81" x2="369.20" y2="327.81" stroke="#000" stroke-width="1.1" />
<line x1="638.50" y1="327.81" x2="640.90" y2="327.81" stroke="#000" stroke-width="1.1" />
<line x1="366.80" y1="323.02" x2="369.20" y2="323.02" stroke="#000" stroke-width="1.1" />
<line x1="638.50" y1="323.02" x2="640.90" y2="323.02" stroke="#000" stroke-width="1.1" />
<line x1="366.80" y1="318.97" x2="369.20" y2="318.97" stroke="#000" stroke-width="1.1" />
<line x1="638.50" y1="318.97" x2="640.90" y2="318.97" stroke="#000" stroke-width="1.1" />
<line x1="366.80" y1="315.46" x2="369.20" y2="315.46" stroke="#000" stroke-width="1.1" />
<line x1="638.50" y1="315.46" x2="640.90" y2="315.46" stroke="#000" stroke-width="1.1" />
<line x1="366.80" y1="312.37" x2="369.20" y2="312.37" stroke="#000" stroke-width="1.1" />
<line x1="638.50" y1="312.37" x2="640.90" y2="312.37" stroke="#000" stroke-width="1.1" />
<line x1="365.00" y1="309.60" x2="369.20" y2="309.60" stroke="#000" stroke-width="1.1" />
<line x1="636.70" y1="309.60" x2="640.90" y2="309.60" stroke="#000" stroke-width="1.1" />
<text x="361.00" y="313.70" font-size="11.3" fill="#111" text-anchor="end" font-weight="normal" font-style="normal" >1</text>
<text x="361.00" y="374.20" font-size="11.3" fill="#111" text-anchor="end" font-weight="normal" font-style="normal" >0,1</text>
<text x="361.00" y="434.70" font-size="11.3" fill="#111" text-anchor="end" font-weight="normal" font-style="normal" >0,01</text>
<polyline points="397.00,309.60 399.71,309.81 402.42,310.04 405.13,310.30 407.84,310.58 410.55,310.88 413.26,311.21 415.97,311.56 418.68,311.93 421.39,312.33 424.10,312.75 426.81,313.19 429.52,313.66 432.23,314.15 434.94,314.66 437.65,315.20 440.36,315.76 443.07,316.34 445.78,316.95 448.49,317.58 451.20,318.23 453.91,318.91 456.62,319.61 459.33,320.33 462.04,321.08 464.75,321.85 467.46,322.64 470.17,323.46 472.88,324.30 475.59,325.17 478.30,326.05 481.01,326.96 483.72,327.90 486.43,328.86 489.14,329.84 491.85,330.84 494.56,331.87 497.27,332.92 499.98,333.99 502.69,335.09 505.40,336.21 508.11,337.36 510.82,338.53 513.53,339.72 516.24,340.93 518.95,342.17 521.66,343.43 524.37,344.72 527.08,346.02 529.79,347.36 532.50,348.71 535.21,350.09 537.92,351.49 540.63,352.92 543.34,354.36 546.05,355.84 548.76,357.33 551.47,358.85 554.18,360.39 556.89,361.96 559.60,363.55 562.31,365.16 565.02,366.79 567.73,368.45 570.44,370.14 573.15,371.84 575.86,373.57 578.57,375.32 581.28,377.10 583.99,378.90 586.70,380.72 589.41,382.57 592.12,384.43 594.83,386.33 597.54,388.24 600.25,390.18 602.96,392.15 605.67,394.13 608.38,396.14 611.09,398.17 613.80,400.23" fill="none" stroke="#8a8a8a" stroke-width="2.6" stroke-linejoin="round"/>
<polyline points="397.00,309.60 399.71,309.78 402.42,309.97 405.13,310.17 407.84,310.39 410.55,310.62 413.26,310.87 415.97,311.13 418.68,311.40 421.39,311.69 424.10,312.00 426.81,312.31 429.52,312.64 432.23,312.99 434.94,313.35 437.65,313.72 440.36,314.11 443.07,314.51 445.78,314.92 448.49,315.35 451.20,315.79 453.91,316.25 456.62,316.72 459.33,317.21 462.04,317.71 464.75,318.22 467.46,318.75 470.17,319.29 472.88,319.84 475.59,320.41 478.30,320.99 481.01,321.59 483.72,322.20 486.43,322.83 489.14,323.47 491.85,324.12 494.56,324.79 497.27,325.47 499.98,326.16 502.69,326.87 505.40,327.60 508.11,328.33 510.82,329.08 513.53,329.85 516.24,330.63 518.95,331.42 521.66,332.23 524.37,333.05 527.08,333.89 529.79,334.74 532.50,335.60 535.21,336.48 537.92,337.37 540.63,338.28 543.34,339.19 546.05,340.13 548.76,341.08 551.47,342.04 554.18,343.01 556.89,344.00 559.60,345.01 562.31,346.02 565.02,347.06 567.73,348.10 570.44,349.16 573.15,350.24 575.86,351.32 578.57,352.43 581.28,353.54 583.99,354.67 586.70,355.82 589.41,356.97 592.12,358.15 594.83,359.33 597.54,360.53 600.25,361.75 602.96,362.97 605.67,364.22 608.38,365.47 611.09,366.74 613.80,368.03" fill="none" stroke="#000" stroke-width="2.6" stroke-linejoin="round"/>
<polyline points="397.00,309.60 399.71,309.61 402.42,309.63 405.13,309.65 407.84,309.68 410.55,309.72 413.26,309.77 415.97,309.82 418.68,309.88 421.39,309.95 424.10,310.03 426.81,310.12 429.52,310.21 432.23,310.31 434.94,310.42 437.65,310.53 440.36,310.66 443.07,310.79 445.78,310.93 448.49,311.07 451.20,311.23 453.91,311.39 456.62,311.56 459.33,311.73 462.04,311.92 464.75,312.11 467.46,312.31 470.17,312.52 472.88,312.73 475.59,312.95 478.30,313.18 481.01,313.42 483.72,313.67 486.43,313.92 489.14,314.18 491.85,314.45 494.56,314.73 497.27,315.01 499.98,315.30 502.69,315.60 505.40,315.91 508.11,316.22 510.82,316.54 513.53,316.87 516.24,317.21 518.95,317.56 521.66,317.91 524.37,318.27 527.08,318.64 529.79,319.01 532.50,319.40 535.21,319.79 537.92,320.19 540.63,320.59 543.34,321.01 546.05,321.43 548.76,321.86 551.47,322.29 554.18,322.74 556.89,323.19 559.60,323.65 562.31,324.12 565.02,324.59 567.73,325.07 570.44,325.56 573.15,326.06 575.86,326.57 578.57,327.08 581.28,327.60 583.99,328.13 586.70,328.66 589.41,329.21 592.12,329.76 594.83,330.32 597.54,330.88 600.25,331.46 602.96,332.04 605.67,332.63 608.38,333.23 611.09,333.83 613.80,334.44" fill="none" stroke="#1414e6" stroke-width="2.6" stroke-linejoin="round"/>
<polyline points="397.00,309.60 399.71,309.60 402.42,309.61 405.13,309.64 407.84,309.68 410.55,309.74 413.26,309.81 415.97,309.90 418.68,310.00 421.39,310.12 424.10,310.25 426.81,310.40 429.52,310.56 432.23,310.73 434.94,310.92 437.65,311.13 440.36,311.34 443.07,311.58 445.78,311.83 448.49,312.09 451.20,312.37 453.91,312.66 456.62,312.97 459.33,313.29 462.04,313.63 464.75,313.98 467.46,314.34 470.17,314.73 472.88,315.12 475.59,315.53 478.30,315.96 481.01,316.40 483.72,316.85 486.43,317.32 489.14,317.80 491.85,318.30 494.56,318.81 497.27,319.34 499.98,319.88 502.69,320.44 505.40,321.01 508.11,321.60 510.82,322.20 513.53,322.82 516.24,323.45 518.95,324.09 521.66,324.75 524.37,325.43 527.08,326.12 529.79,326.82 532.50,327.54 535.21,328.27 537.92,329.02 540.63,329.78 543.34,330.56 546.05,331.35 548.76,332.16 551.47,332.98 554.18,333.82 556.89,334.67 559.60,335.53 562.31,336.41 565.02,337.31 567.73,338.22 570.44,339.14 573.15,340.08 575.86,341.04 578.57,342.00 581.28,342.99 583.99,343.98 586.70,345.00 589.41,346.02 592.12,347.07 594.83,348.12 597.54,349.19 600.25,350.28 602.96,351.38 605.67,352.50 608.38,353.63 611.09,354.77 613.80,355.93" fill="none" stroke="#55bff0" stroke-width="2.6" stroke-linejoin="round"/>
<line x1="397.00" y1="308.10" x2="397.00" y2="311.10" stroke="#8a8a8a" stroke-width="1" />
<line x1="394.80" y1="308.10" x2="399.20" y2="308.10" stroke="#8a8a8a" stroke-width="1" />
<line x1="394.80" y1="311.10" x2="399.20" y2="311.10" stroke="#8a8a8a" stroke-width="1" />
<polygon points="392.80,306.00 401.20,306.00 397.00,313.80" fill="#8a8a8a"/>
<line x1="451.20" y1="317.60" x2="451.20" y2="321.60" stroke="#8a8a8a" stroke-width="1" />
<line x1="449.00" y1="317.60" x2="453.40" y2="317.60" stroke="#8a8a8a" stroke-width="1" />
<line x1="449.00" y1="321.60" x2="453.40" y2="321.60" stroke="#8a8a8a" stroke-width="1" />
<polygon points="447.00,316.00 455.40,316.00 451.20,323.80" fill="#8a8a8a"/>
<line x1="478.30" y1="320.60" x2="478.30" y2="326.60" stroke="#8a8a8a" stroke-width="1" />
<line x1="476.10" y1="320.60" x2="480.50" y2="320.60" stroke="#8a8a8a" stroke-width="1" />
<line x1="476.10" y1="326.60" x2="480.50" y2="326.60" stroke="#8a8a8a" stroke-width="1" />
<polygon points="474.10,320.00 482.50,320.00 478.30,327.80" fill="#8a8a8a"/>
<line x1="532.50" y1="343.40" x2="532.50" y2="355.40" stroke="#8a8a8a" stroke-width="1" />
<line x1="530.30" y1="343.40" x2="534.70" y2="343.40" stroke="#8a8a8a" stroke-width="1" />
<line x1="530.30" y1="355.40" x2="534.70" y2="355.40" stroke="#8a8a8a" stroke-width="1" />
<polygon points="528.30,345.80 536.70,345.80 532.50,353.60" fill="#8a8a8a"/>
<line x1="586.70" y1="365.60" x2="586.70" y2="383.60" stroke="#8a8a8a" stroke-width="1" />
<line x1="584.50" y1="365.60" x2="588.90" y2="365.60" stroke="#8a8a8a" stroke-width="1" />
<line x1="584.50" y1="383.60" x2="588.90" y2="383.60" stroke="#8a8a8a" stroke-width="1" />
<polygon points="582.50,371.00 590.90,371.00 586.70,378.80" fill="#8a8a8a"/>
<line x1="613.80" y1="391.60" x2="613.80" y2="413.60" stroke="#8a8a8a" stroke-width="1" />
<line x1="611.60" y1="391.60" x2="616.00" y2="391.60" stroke="#8a8a8a" stroke-width="1" />
<line x1="611.60" y1="413.60" x2="616.00" y2="413.60" stroke="#8a8a8a" stroke-width="1" />
<polygon points="609.60,399.00 618.00,399.00 613.80,406.80" fill="#8a8a8a"/>
<polygon points="392.80,306.00 401.20,306.00 397.00,313.80" fill="#000"/>
<line x1="451.20" y1="317.30" x2="451.20" y2="319.30" stroke="#000" stroke-width="1" />
<line x1="449.00" y1="317.30" x2="453.40" y2="317.30" stroke="#000" stroke-width="1" />
<line x1="449.00" y1="319.30" x2="453.40" y2="319.30" stroke="#000" stroke-width="1" />
<polygon points="447.00,314.70 455.40,314.70 451.20,322.50" fill="#000"/>
<line x1="478.30" y1="317.60" x2="478.30" y2="321.60" stroke="#000" stroke-width="1" />
<line x1="476.10" y1="317.60" x2="480.50" y2="317.60" stroke="#000" stroke-width="1" />
<line x1="476.10" y1="321.60" x2="480.50" y2="321.60" stroke="#000" stroke-width="1" />
<polygon points="474.10,316.00 482.50,316.00 478.30,323.80" fill="#000"/>
<line x1="532.50" y1="332.20" x2="532.50" y2="336.20" stroke="#000" stroke-width="1" />
<line x1="530.30" y1="332.20" x2="534.70" y2="332.20" stroke="#000" stroke-width="1" />
<line x1="530.30" y1="336.20" x2="534.70" y2="336.20" stroke="#000" stroke-width="1" />
<polygon points="528.30,330.60 536.70,330.60 532.50,338.40" fill="#000"/>
<line x1="586.70" y1="352.30" x2="586.70" y2="356.30" stroke="#000" stroke-width="1" />
<line x1="584.50" y1="352.30" x2="588.90" y2="352.30" stroke="#000" stroke-width="1" />
<line x1="584.50" y1="356.30" x2="588.90" y2="356.30" stroke="#000" stroke-width="1" />
<polygon points="582.50,350.70 590.90,350.70 586.70,358.50" fill="#000"/>
<line x1="613.80" y1="367.90" x2="613.80" y2="371.90" stroke="#000" stroke-width="1" />
<line x1="611.60" y1="367.90" x2="616.00" y2="367.90" stroke="#000" stroke-width="1" />
<line x1="611.60" y1="371.90" x2="616.00" y2="371.90" stroke="#000" stroke-width="1" />
<polygon points="609.60,366.30 618.00,366.30 613.80,374.10" fill="#000"/>
<line x1="451.20" y1="310.50" x2="451.20" y2="312.50" stroke="#55bff0" stroke-width="1" />
<line x1="449.00" y1="310.50" x2="453.40" y2="310.50" stroke="#55bff0" stroke-width="1" />
<line x1="449.00" y1="312.50" x2="453.40" y2="312.50" stroke="#55bff0" stroke-width="1" />
<rect x="447.70" y="308.00" width="7.00" height="7.00" fill="#55bff0" stroke="none" stroke-width="1" />
<line x1="478.30" y1="313.70" x2="478.30" y2="315.70" stroke="#55bff0" stroke-width="1" />
<line x1="476.10" y1="313.70" x2="480.50" y2="313.70" stroke="#55bff0" stroke-width="1" />
<line x1="476.10" y1="315.70" x2="480.50" y2="315.70" stroke="#55bff0" stroke-width="1" />
<rect x="474.80" y="311.20" width="7.00" height="7.00" fill="#55bff0" stroke="none" stroke-width="1" />
<line x1="532.50" y1="324.50" x2="532.50" y2="327.50" stroke="#55bff0" stroke-width="1" />
<line x1="530.30" y1="324.50" x2="534.70" y2="324.50" stroke="#55bff0" stroke-width="1" />
<line x1="530.30" y1="327.50" x2="534.70" y2="327.50" stroke="#55bff0" stroke-width="1" />
<rect x="529.00" y="322.50" width="7.00" height="7.00" fill="#55bff0" stroke="none" stroke-width="1" />
<line x1="586.70" y1="344.10" x2="586.70" y2="348.10" stroke="#55bff0" stroke-width="1" />
<line x1="584.50" y1="344.10" x2="588.90" y2="344.10" stroke="#55bff0" stroke-width="1" />
<line x1="584.50" y1="348.10" x2="588.90" y2="348.10" stroke="#55bff0" stroke-width="1" />
<rect x="583.20" y="342.60" width="7.00" height="7.00" fill="#55bff0" stroke="none" stroke-width="1" />
<line x1="613.80" y1="353.90" x2="613.80" y2="358.90" stroke="#55bff0" stroke-width="1" />
<line x1="611.60" y1="353.90" x2="616.00" y2="353.90" stroke="#55bff0" stroke-width="1" />
<line x1="611.60" y1="358.90" x2="616.00" y2="358.90" stroke="#55bff0" stroke-width="1" />
<rect x="610.30" y="352.90" width="7.00" height="7.00" fill="#55bff0" stroke="none" stroke-width="1" />
<rect x="393.50" y="306.10" width="7.00" height="7.00" fill="#1414e6" stroke="none" stroke-width="1" />
<line x1="451.20" y1="309.40" x2="451.20" y2="311.40" stroke="#1414e6" stroke-width="1" />
<line x1="449.00" y1="309.40" x2="453.40" y2="309.40" stroke="#1414e6" stroke-width="1" />
<line x1="449.00" y1="311.40" x2="453.40" y2="311.40" stroke="#1414e6" stroke-width="1" />
<rect x="447.70" y="306.90" width="7.00" height="7.00" fill="#1414e6" stroke="none" stroke-width="1" />
<line x1="478.30" y1="311.30" x2="478.30" y2="313.30" stroke="#1414e6" stroke-width="1" />
<line x1="476.10" y1="311.30" x2="480.50" y2="311.30" stroke="#1414e6" stroke-width="1" />
<line x1="476.10" y1="313.30" x2="480.50" y2="313.30" stroke="#1414e6" stroke-width="1" />
<rect x="474.80" y="308.80" width="7.00" height="7.00" fill="#1414e6" stroke="none" stroke-width="1" />
<line x1="532.50" y1="316.40" x2="532.50" y2="318.40" stroke="#1414e6" stroke-width="1" />
<line x1="530.30" y1="316.40" x2="534.70" y2="316.40" stroke="#1414e6" stroke-width="1" />
<line x1="530.30" y1="318.40" x2="534.70" y2="318.40" stroke="#1414e6" stroke-width="1" />
<rect x="529.00" y="313.90" width="7.00" height="7.00" fill="#1414e6" stroke="none" stroke-width="1" />
<line x1="586.70" y1="326.20" x2="586.70" y2="328.20" stroke="#1414e6" stroke-width="1" />
<line x1="584.50" y1="326.20" x2="588.90" y2="326.20" stroke="#1414e6" stroke-width="1" />
<line x1="584.50" y1="328.20" x2="588.90" y2="328.20" stroke="#1414e6" stroke-width="1" />
<rect x="583.20" y="323.70" width="7.00" height="7.00" fill="#1414e6" stroke="none" stroke-width="1" />
<line x1="613.80" y1="333.40" x2="613.80" y2="335.40" stroke="#1414e6" stroke-width="1" />
<line x1="611.60" y1="333.40" x2="616.00" y2="333.40" stroke="#1414e6" stroke-width="1" />
<line x1="611.60" y1="335.40" x2="616.00" y2="335.40" stroke="#1414e6" stroke-width="1" />
<rect x="610.30" y="330.90" width="7.00" height="7.00" fill="#1414e6" stroke="none" stroke-width="1" />
<text transform="translate(336.2,376) rotate(-90)" font-size="11.9" text-anchor="middle" fill="#111">Surviving fraction</text>
<text x="505.00" y="525.60" font-size="11.8" fill="#111" text-anchor="middle" font-weight="normal" font-style="normal" >Radiation dose, Gy</text>
<text x="375.50" y="455.40" font-size="11.7" fill="#8f8f8f" text-anchor="start" font-weight="normal" font-style="normal" >KP5</text>
<line x1="375.50" y1="457.40" x2="397.61" y2="457.40" stroke="#8f8f8f" stroke-width="1.0" />
<text x="375.50" y="469.70" font-size="11.7" fill="#8f8f8f" text-anchor="start" font-weight="normal" font-style="normal" >SF2=0.72</text>
<text x="375.50" y="484.00" font-size="11.7" fill="#8f8f8f">D<tspan font-size="7.49" dy="3.3">25</tspan><tspan dy="-3.3">=4.8</tspan></text>
<text x="439.00" y="455.40" font-size="11.7" fill="#000" text-anchor="start" font-weight="normal" font-style="normal" >KP6</text>
<line x1="439.00" y1="457.40" x2="461.11" y2="457.40" stroke="#000" stroke-width="1.0" />
<text x="439.00" y="469.70" font-size="11.7" fill="#000" text-anchor="start" font-weight="normal" font-style="normal" >SF2=0.79</text>
<text x="439.00" y="484.00" font-size="11.7" fill="#000">D<tspan font-size="7.49" dy="3.3">25</tspan><tspan dy="-3.3">=6.1</tspan></text>
<text x="498.90" y="455.40" font-size="11.7" fill="#1a1adc" text-anchor="start" font-weight="normal" font-style="normal" >KPP4</text>
<line x1="498.90" y1="457.40" x2="528.82" y2="457.40" stroke="#1a1adc" stroke-width="1.0" />
<text x="498.90" y="469.70" font-size="11.7" fill="#1a1adc" text-anchor="start" font-weight="normal" font-style="normal" >SF2=0.94</text>
<text x="498.90" y="484.00" font-size="11.7" fill="#1a1adc">D<tspan font-size="7.49" dy="3.3">25</tspan><tspan dy="-3.3">=9.7</tspan></text>
<text x="557.50" y="455.40" font-size="11.7" fill="#5cc0f2" text-anchor="start" font-weight="normal" font-style="normal" >KPP8</text>
<line x1="557.50" y1="457.40" x2="587.42" y2="457.40" stroke="#5cc0f2" stroke-width="1.0" />
<text x="557.50" y="469.70" font-size="11.7" fill="#5cc0f2" text-anchor="start" font-weight="normal" font-style="normal" >SF2=0.90</text>
<text x="557.50" y="484.00" font-size="11.7" fill="#5cc0f2">D<tspan font-size="7.49" dy="3.3">25</tspan><tspan dy="-3.3">=7.1</tspan></text>
<rect x="369.3" y="679.2" width="271.59999999999997" height="198.79999999999995" fill="none" stroke="#000" stroke-width="1.4"/>
<line x1="396.50" y1="878.00" x2="396.50" y2="882.20" stroke="#000" stroke-width="1.1" />
<line x1="396.50" y1="679.20" x2="396.50" y2="683.40" stroke="#000" stroke-width="1.1" />
<line x1="450.70" y1="878.00" x2="450.70" y2="882.20" stroke="#000" stroke-width="1.1" />
<line x1="450.70" y1="679.20" x2="450.70" y2="683.40" stroke="#000" stroke-width="1.1" />
<line x1="504.90" y1="878.00" x2="504.90" y2="882.20" stroke="#000" stroke-width="1.1" />
<line x1="504.90" y1="679.20" x2="504.90" y2="683.40" stroke="#000" stroke-width="1.1" />
<line x1="559.10" y1="878.00" x2="559.10" y2="882.20" stroke="#000" stroke-width="1.1" />
<line x1="559.10" y1="679.20" x2="559.10" y2="683.40" stroke="#000" stroke-width="1.1" />
<line x1="613.30" y1="878.00" x2="613.30" y2="882.20" stroke="#000" stroke-width="1.1" />
<line x1="613.30" y1="679.20" x2="613.30" y2="683.40" stroke="#000" stroke-width="1.1" />
<line x1="423.60" y1="878.00" x2="423.60" y2="880.40" stroke="#000" stroke-width="1.1" />
<line x1="423.60" y1="679.20" x2="423.60" y2="681.60" stroke="#000" stroke-width="1.1" />
<line x1="477.80" y1="878.00" x2="477.80" y2="880.40" stroke="#000" stroke-width="1.1" />
<line x1="477.80" y1="679.20" x2="477.80" y2="681.60" stroke="#000" stroke-width="1.1" />
<line x1="532.00" y1="878.00" x2="532.00" y2="880.40" stroke="#000" stroke-width="1.1" />
<line x1="532.00" y1="679.20" x2="532.00" y2="681.60" stroke="#000" stroke-width="1.1" />
<line x1="586.20" y1="878.00" x2="586.20" y2="880.40" stroke="#000" stroke-width="1.1" />
<line x1="586.20" y1="679.20" x2="586.20" y2="681.60" stroke="#000" stroke-width="1.1" />
<text x="396.50" y="893.60" font-size="11.5" fill="#111" text-anchor="middle" font-weight="normal" font-style="normal" >0</text>
<text x="450.70" y="893.60" font-size="11.5" fill="#111" text-anchor="middle" font-weight="normal" font-style="normal" >2</text>
<text x="504.90" y="893.60" font-size="11.5" fill="#111" text-anchor="middle" font-weight="normal" font-style="normal" >4</text>
<text x="559.10" y="893.60" font-size="11.5" fill="#111" text-anchor="middle" font-weight="normal" font-style="normal" >6</text>
<text x="613.30" y="893.60" font-size="11.5" fill="#111" text-anchor="middle" font-weight="normal" font-style="normal" >8</text>
<line x1="366.90" y1="866.56" x2="369.30" y2="866.56" stroke="#000" stroke-width="1.1" />
<line x1="638.50" y1="866.56" x2="640.90" y2="866.56" stroke="#000" stroke-width="1.1" />
<line x1="366.90" y1="857.13" x2="369.30" y2="857.13" stroke="#000" stroke-width="1.1" />
<line x1="638.50" y1="857.13" x2="640.90" y2="857.13" stroke="#000" stroke-width="1.1" />
<line x1="366.90" y1="848.95" x2="369.30" y2="848.95" stroke="#000" stroke-width="1.1" />
<line x1="638.50" y1="848.95" x2="640.90" y2="848.95" stroke="#000" stroke-width="1.1" />
<line x1="366.90" y1="841.75" x2="369.30" y2="841.75" stroke="#000" stroke-width="1.1" />
<line x1="638.50" y1="841.75" x2="640.90" y2="841.75" stroke="#000" stroke-width="1.1" />
<line x1="365.10" y1="835.30" x2="369.30" y2="835.30" stroke="#000" stroke-width="1.1" />
<line x1="636.70" y1="835.30" x2="640.90" y2="835.30" stroke="#000" stroke-width="1.1" />
<line x1="366.90" y1="792.88" x2="369.30" y2="792.88" stroke="#000" stroke-width="1.1" />
<line x1="638.50" y1="792.88" x2="640.90" y2="792.88" stroke="#000" stroke-width="1.1" />
<line x1="366.90" y1="768.07" x2="369.30" y2="768.07" stroke="#000" stroke-width="1.1" />
<line x1="638.50" y1="768.07" x2="640.90" y2="768.07" stroke="#000" stroke-width="1.1" />
<line x1="366.90" y1="750.47" x2="369.30" y2="750.47" stroke="#000" stroke-width="1.1" />
<line x1="638.50" y1="750.47" x2="640.90" y2="750.47" stroke="#000" stroke-width="1.1" />
<line x1="366.90" y1="736.82" x2="369.30" y2="736.82" stroke="#000" stroke-width="1.1" />
<line x1="638.50" y1="736.82" x2="640.90" y2="736.82" stroke="#000" stroke-width="1.1" />
<line x1="366.90" y1="725.66" x2="369.30" y2="725.66" stroke="#000" stroke-width="1.1" />
<line x1="638.50" y1="725.66" x2="640.90" y2="725.66" stroke="#000" stroke-width="1.1" />
<line x1="366.90" y1="716.23" x2="369.30" y2="716.23" stroke="#000" stroke-width="1.1" />
<line x1="638.50" y1="716.23" x2="640.90" y2="716.23" stroke="#000" stroke-width="1.1" />
<line x1="366.90" y1="708.05" x2="369.30" y2="708.05" stroke="#000" stroke-width="1.1" />
<line x1="638.50" y1="708.05" x2="640.90" y2="708.05" stroke="#000" stroke-width="1.1" />
<line x1="366.90" y1="700.85" x2="369.30" y2="700.85" stroke="#000" stroke-width="1.1" />
<line x1="638.50" y1="700.85" x2="640.90" y2="700.85" stroke="#000" stroke-width="1.1" />
<line x1="365.10" y1="694.40" x2="369.30" y2="694.40" stroke="#000" stroke-width="1.1" />
<line x1="636.70" y1="694.40" x2="640.90" y2="694.40" stroke="#000" stroke-width="1.1" />
<text x="363.10" y="698.50" font-size="11.3" fill="#111" text-anchor="end" font-weight="normal" font-style="normal" >1</text>
<text x="363.10" y="839.40" font-size="11.3" fill="#111" text-anchor="end" font-weight="normal" font-style="normal" >0,1</text>
<polyline points="396.50,694.40 399.21,694.43 401.92,694.47 404.63,694.54 407.34,694.63 410.05,694.74 412.76,694.87 415.47,695.02 418.18,695.19 420.89,695.38 423.60,695.59 426.31,695.82 429.02,696.08 431.73,696.35 434.44,696.64 437.15,696.96 439.86,697.29 442.57,697.65 445.28,698.03 447.99,698.42 450.70,698.84 453.41,699.28 456.12,699.74 458.83,700.22 461.54,700.72 464.25,701.24 466.96,701.78 469.67,702.34 472.38,702.92 475.09,703.53 477.80,704.15 480.51,704.79 483.22,705.46 485.93,706.14 488.64,706.85 491.35,707.58 494.06,708.32 496.77,709.09 499.48,709.88 502.19,710.69 504.90,711.52 507.61,712.37 510.32,713.24 513.03,714.13 515.74,715.04 518.45,715.97 521.16,716.92 523.87,717.90 526.58,718.89 529.29,719.91 532.00,720.94 534.71,722.00 537.42,723.07 540.13,724.17 542.84,725.29 545.55,726.43 548.26,727.59 550.97,728.76 553.68,729.96 556.39,731.18 559.10,732.43 561.81,733.69 564.52,734.97 567.23,736.27 569.94,737.60 572.65,738.94 575.36,740.30 578.07,741.69 580.78,743.10 583.49,744.52 586.20,745.97 588.91,747.44 591.62,748.92 594.33,750.43 597.04,751.96 599.75,753.51 602.46,755.08 605.17,756.67 607.88,758.29 610.59,759.92 613.30,761.57" fill="none" stroke="#1212e6" stroke-width="2.6" stroke-linejoin="round"/>
<polyline points="396.50,694.40 399.21,694.44 401.92,694.51 404.63,694.62 407.34,694.77 410.05,694.96 412.76,695.18 415.47,695.44 418.18,695.74 420.89,696.08 423.60,696.45 426.31,696.86 429.02,697.31 431.73,697.79 434.44,698.31 437.15,698.87 439.86,699.47 442.57,700.10 445.28,700.77 447.99,701.48 450.70,702.22 453.41,703.00 456.12,703.82 458.83,704.68 461.54,705.57 464.25,706.51 466.96,707.47 469.67,708.48 472.38,709.52 475.09,710.60 477.80,711.72 480.51,712.87 483.22,714.06 485.93,715.29 488.64,716.56 491.35,717.86 494.06,719.20 496.77,720.58 499.48,722.00 502.19,723.45 504.90,724.94 507.61,726.47 510.32,728.03 513.03,729.63 515.74,731.27 518.45,732.94 521.16,734.66 523.87,736.41 526.58,738.20 529.29,740.02 532.00,741.88 534.71,743.78 537.42,745.72 540.13,747.69 542.84,749.70 545.55,751.75 548.26,753.83 550.97,755.96 553.68,758.12 556.39,760.31 559.10,762.55 561.81,764.82 564.52,767.13 567.23,769.47 569.94,771.86 572.65,774.28 575.36,776.74 578.07,779.23 580.78,781.76 583.49,784.33 586.20,786.94 588.91,789.58 591.62,792.26 594.33,794.98 597.04,797.74 599.75,800.53 602.46,803.36 605.17,806.23 607.88,809.13 610.59,812.07 613.30,815.05" fill="none" stroke="#bcbcbc" stroke-width="2.8" stroke-linejoin="round"/>
<polyline points="396.50,694.40 399.21,694.68 401.92,695.00 404.63,695.34 407.34,695.73 410.05,696.15 412.76,696.60 415.47,697.09 418.18,697.61 420.89,698.16 423.60,698.75 426.31,699.38 429.02,700.04 431.73,700.73 434.44,701.46 437.15,702.22 439.86,703.01 442.57,703.85 445.28,704.71 447.99,705.61 450.70,706.54 453.41,707.51 456.12,708.51 458.83,709.55 461.54,710.62 464.25,711.73 466.96,712.87 469.67,714.04 472.38,715.25 475.09,716.50 477.80,717.77 480.51,719.09 483.22,720.43 485.93,721.81 488.64,723.23 491.35,724.68 494.06,726.16 496.77,727.68 499.48,729.23 502.19,730.82 504.90,732.44 507.61,734.10 510.32,735.79 513.03,737.51 515.74,739.27 518.45,741.07 521.16,742.89 523.87,744.76 526.58,746.65 529.29,748.58 532.00,750.55 534.71,752.55 537.42,754.58 540.13,756.65 542.84,758.76 545.55,760.89 548.26,763.06 550.97,765.27 553.68,767.51 556.39,769.79 559.10,772.10 561.81,774.44 564.52,776.82 567.23,779.23 569.94,781.68 572.65,784.16 575.36,786.67 578.07,789.22 580.78,791.81 583.49,794.43 586.20,797.08 588.91,799.77 591.62,802.49 594.33,805.25 597.04,808.04 599.75,810.86 602.46,813.72 605.17,816.62 607.88,819.54 610.59,822.51 613.30,825.50" fill="none" stroke="#8c8c8c" stroke-width="3.2" stroke-linejoin="round"/>
<polyline points="396.50,694.40 399.21,694.49 401.92,694.62 404.63,694.78 407.34,694.99 410.05,695.23 412.76,695.52 415.47,695.84 418.18,696.21 420.89,696.61 423.60,697.05 426.31,697.53 429.02,698.05 431.73,698.61 434.44,699.21 437.15,699.85 439.86,700.53 442.57,701.24 445.28,702.00 447.99,702.79 450.70,703.63 453.41,704.50 456.12,705.42 458.83,706.37 461.54,707.36 464.25,708.39 466.96,709.46 469.67,710.57 472.38,711.72 475.09,712.91 477.80,714.13 480.51,715.40 483.22,716.71 485.93,718.05 488.64,719.44 491.35,720.86 494.06,722.32 496.77,723.83 499.48,725.37 502.19,726.95 504.90,728.57 507.61,730.23 510.32,731.93 513.03,733.66 515.74,735.44 518.45,737.26 521.16,739.11 523.87,741.01 526.58,742.94 529.29,744.92 532.00,746.93 534.71,748.98 537.42,751.07 540.13,753.20 542.84,755.37 545.55,757.58 548.26,759.83 550.97,762.12 553.68,764.44 556.39,766.81 559.10,769.22 561.81,771.66 564.52,774.14 567.23,776.67 569.94,779.23 572.65,781.83 575.36,784.47 578.07,787.15 580.78,789.87 583.49,792.63 586.20,795.43 588.91,798.27 591.62,801.14 594.33,804.06 597.04,807.02 599.75,810.01 602.46,813.04 605.17,816.12 607.88,819.23 610.59,822.38 613.30,825.57" fill="none" stroke="#2a2a2a" stroke-width="3.6" stroke-linejoin="round"/>
<polyline points="396.50,694.40 399.21,694.57 401.92,694.79 404.63,695.04 407.34,695.32 410.05,695.65 412.76,696.01 415.47,696.41 418.18,696.85 420.89,697.33 423.60,697.84 426.31,698.40 429.02,698.99 431.73,699.61 434.44,700.28 437.15,700.98 439.86,701.73 442.57,702.50 445.28,703.32 447.99,704.18 450.70,705.07 453.41,706.00 456.12,706.97 458.83,707.97 461.54,709.02 464.25,710.10 466.96,711.22 469.67,712.38 472.38,713.57 475.09,714.81 477.80,716.08 480.51,717.38 483.22,718.73 485.93,720.12 488.64,721.54 491.35,723.00 494.06,724.50 496.77,726.03 499.48,727.60 502.19,729.22 504.90,730.86 507.61,732.55 510.32,734.28 513.03,736.04 515.74,737.84 518.45,739.68 521.16,741.55 523.87,743.47 526.58,745.42 529.29,747.41 532.00,749.44 534.71,751.50 537.42,753.60 540.13,755.74 542.84,757.92 545.55,760.14 548.26,762.39 550.97,764.68 553.68,767.01 556.39,769.38 559.10,771.79 561.81,774.23 564.52,776.71 567.23,779.23 569.94,781.79 572.65,784.38 575.36,787.01 578.07,789.68 580.78,792.39 583.49,795.14 586.20,797.92 588.91,800.74 591.62,803.60 594.33,806.50 597.04,809.43 599.75,812.41 602.46,815.42 605.17,818.46 607.88,821.55 610.59,824.67 613.30,827.84" fill="none" stroke="#000" stroke-width="3.4" stroke-linejoin="round"/>
<line x1="396.50" y1="693.40" x2="396.50" y2="695.40" stroke="#1212e6" stroke-width="1" />
<line x1="394.30" y1="693.40" x2="398.70" y2="693.40" stroke="#1212e6" stroke-width="1" />
<line x1="394.30" y1="695.40" x2="398.70" y2="695.40" stroke="#1212e6" stroke-width="1" />
<rect x="393.00" y="690.90" width="7.00" height="7.00" fill="#1212e6" stroke="none" stroke-width="1" />
<line x1="450.70" y1="695.80" x2="450.70" y2="699.80" stroke="#1212e6" stroke-width="1" />
<line x1="448.50" y1="695.80" x2="452.90" y2="695.80" stroke="#1212e6" stroke-width="1" />
<line x1="448.50" y1="699.80" x2="452.90" y2="699.80" stroke="#1212e6" stroke-width="1" />
<rect x="447.20" y="694.30" width="7.00" height="7.00" fill="#1212e6" stroke="none" stroke-width="1" />
<line x1="477.80" y1="698.50" x2="477.80" y2="702.50" stroke="#1212e6" stroke-width="1" />
<line x1="475.60" y1="698.50" x2="480.00" y2="698.50" stroke="#1212e6" stroke-width="1" />
<line x1="475.60" y1="702.50" x2="480.00" y2="702.50" stroke="#1212e6" stroke-width="1" />
<rect x="474.30" y="697.00" width="7.00" height="7.00" fill="#1212e6" stroke="none" stroke-width="1" />
<line x1="532.00" y1="716.10" x2="532.00" y2="720.10" stroke="#1212e6" stroke-width="1" />
<line x1="529.80" y1="716.10" x2="534.20" y2="716.10" stroke="#1212e6" stroke-width="1" />
<line x1="529.80" y1="720.10" x2="534.20" y2="720.10" stroke="#1212e6" stroke-width="1" />
<rect x="528.50" y="714.60" width="7.00" height="7.00" fill="#1212e6" stroke="none" stroke-width="1" />
<line x1="586.20" y1="743.00" x2="586.20" y2="753.00" stroke="#1212e6" stroke-width="1" />
<line x1="584.00" y1="743.00" x2="588.40" y2="743.00" stroke="#1212e6" stroke-width="1" />
<line x1="584.00" y1="753.00" x2="588.40" y2="753.00" stroke="#1212e6" stroke-width="1" />
<rect x="582.70" y="744.50" width="7.00" height="7.00" fill="#1212e6" stroke="none" stroke-width="1" />
<line x1="613.30" y1="759.70" x2="613.30" y2="775.70" stroke="#1212e6" stroke-width="1" />
<line x1="611.10" y1="759.70" x2="615.50" y2="759.70" stroke="#1212e6" stroke-width="1" />
<line x1="611.10" y1="775.70" x2="615.50" y2="775.70" stroke="#1212e6" stroke-width="1" />
<rect x="609.80" y="764.20" width="7.00" height="7.00" fill="#1212e6" stroke="none" stroke-width="1" />
<line x1="477.80" y1="705.00" x2="477.80" y2="711.00" stroke="#c0c0c0" stroke-width="1" />
<line x1="475.60" y1="705.00" x2="480.00" y2="705.00" stroke="#c0c0c0" stroke-width="1" />
<line x1="475.60" y1="711.00" x2="480.00" y2="711.00" stroke="#c0c0c0" stroke-width="1" />
<polygon points="473.60,704.40 482.00,704.40 477.80,712.20" fill="#c0c0c0"/>
<line x1="532.00" y1="727.00" x2="532.00" y2="747.00" stroke="#c0c0c0" stroke-width="1" />
<line x1="529.80" y1="727.00" x2="534.20" y2="727.00" stroke="#c0c0c0" stroke-width="1" />
<line x1="529.80" y1="747.00" x2="534.20" y2="747.00" stroke="#c0c0c0" stroke-width="1" />
<polygon points="527.80,733.40 536.20,733.40 532.00,741.20" fill="#c0c0c0"/>
<line x1="586.20" y1="774.50" x2="586.20" y2="798.50" stroke="#c0c0c0" stroke-width="1" />
<line x1="584.00" y1="774.50" x2="588.40" y2="774.50" stroke="#c0c0c0" stroke-width="1" />
<line x1="584.00" y1="798.50" x2="588.40" y2="798.50" stroke="#c0c0c0" stroke-width="1" />
<polygon points="582.00,782.90 590.40,782.90 586.20,790.70" fill="#c0c0c0"/>
<line x1="613.30" y1="812.50" x2="613.30" y2="856.50" stroke="#c0c0c0" stroke-width="1" />
<line x1="611.10" y1="812.50" x2="615.50" y2="812.50" stroke="#c0c0c0" stroke-width="1" />
<line x1="611.10" y1="856.50" x2="615.50" y2="856.50" stroke="#c0c0c0" stroke-width="1" />
<polygon points="609.10,830.90 617.50,830.90 613.30,838.70" fill="#c0c0c0"/>
<line x1="532.00" y1="733.00" x2="532.00" y2="749.00" stroke="#888" stroke-width="1" />
<line x1="529.80" y1="733.00" x2="534.20" y2="733.00" stroke="#888" stroke-width="1" />
<line x1="529.80" y1="749.00" x2="534.20" y2="749.00" stroke="#888" stroke-width="1" />
<polygon points="527.80,737.40 536.20,737.40 532.00,745.20" fill="#888"/>
<line x1="586.20" y1="780.00" x2="586.20" y2="796.00" stroke="#888" stroke-width="1" />
<line x1="584.00" y1="780.00" x2="588.40" y2="780.00" stroke="#888" stroke-width="1" />
<line x1="584.00" y1="796.00" x2="588.40" y2="796.00" stroke="#888" stroke-width="1" />
<polygon points="582.00,784.40 590.40,784.40 586.20,792.20" fill="#888"/>
<line x1="613.30" y1="800.00" x2="613.30" y2="852.00" stroke="#888" stroke-width="1" />
<line x1="611.10" y1="800.00" x2="615.50" y2="800.00" stroke="#888" stroke-width="1" />
<line x1="611.10" y1="852.00" x2="615.50" y2="852.00" stroke="#888" stroke-width="1" />
<polygon points="609.10,822.40 617.50,822.40 613.30,830.20" fill="#888"/>
<polygon points="392.30,690.80 400.70,690.80 396.50,698.60" fill="#000"/>
<line x1="450.70" y1="703.50" x2="450.70" y2="707.50" stroke="#000" stroke-width="1" />
<line x1="448.50" y1="703.50" x2="452.90" y2="703.50" stroke="#000" stroke-width="1" />
<line x1="448.50" y1="707.50" x2="452.90" y2="707.50" stroke="#000" stroke-width="1" />
<polygon points="446.50,701.90 454.90,701.90 450.70,709.70" fill="#000"/>
<line x1="477.80" y1="711.50" x2="477.80" y2="717.50" stroke="#000" stroke-width="1" />
<line x1="475.60" y1="711.50" x2="480.00" y2="711.50" stroke="#000" stroke-width="1" />
<line x1="475.60" y1="717.50" x2="480.00" y2="717.50" stroke="#000" stroke-width="1" />
<polygon points="473.60,710.90 482.00,710.90 477.80,718.70" fill="#000"/>
<line x1="532.00" y1="738.80" x2="532.00" y2="750.80" stroke="#000" stroke-width="1" />
<line x1="529.80" y1="738.80" x2="534.20" y2="738.80" stroke="#000" stroke-width="1" />
<line x1="529.80" y1="750.80" x2="534.20" y2="750.80" stroke="#000" stroke-width="1" />
<polygon points="527.80,741.20 536.20,741.20 532.00,749.00" fill="#000"/>
<line x1="586.20" y1="782.00" x2="586.20" y2="798.00" stroke="#000" stroke-width="1" />
<line x1="584.00" y1="782.00" x2="588.40" y2="782.00" stroke="#000" stroke-width="1" />
<line x1="584.00" y1="798.00" x2="588.40" y2="798.00" stroke="#000" stroke-width="1" />
<polygon points="582.00,786.40 590.40,786.40 586.20,794.20" fill="#000"/>
<line x1="613.30" y1="824.00" x2="613.30" y2="832.00" stroke="#000" stroke-width="1" />
<line x1="611.10" y1="824.00" x2="615.50" y2="824.00" stroke="#000" stroke-width="1" />
<line x1="611.10" y1="832.00" x2="615.50" y2="832.00" stroke="#000" stroke-width="1" />
<polygon points="609.10,824.40 617.50,824.40 613.30,832.20" fill="#000"/>
<text transform="translate(342.0,763.7) rotate(-90)" font-size="11.9" text-anchor="middle" fill="#111">Surviving fraction</text>
<text x="505.00" y="913.50" font-size="11.8" fill="#111" text-anchor="middle" font-weight="normal" font-style="normal" >Radiation dose, Gy</text>
<text x="374.00" y="735.00" font-size="11.7" fill="#1515e0" text-anchor="start" font-weight="normal" font-style="normal" >KPP</text>
<line x1="374.00" y1="737.00" x2="397.41" y2="737.00" stroke="#1515e0" stroke-width="1.0" />
<text x="374.00" y="749.30" font-size="11.7" fill="#1515e0" text-anchor="start" font-weight="normal" font-style="normal" >SF2=0.93</text>
<text x="374.00" y="763.60" font-size="11.7" fill="#1515e0">D<tspan font-size="7.49" dy="3.3">25</tspan><tspan dy="-3.3">=9.0</tspan></text>
<text x="373.60" y="783.10" font-size="11.7" fill="#bcbcbc" text-anchor="start" font-weight="normal" font-style="normal" >KPP + PTEN C5</text>
<line x1="373.60" y1="785.10" x2="459.76" y2="785.10" stroke="#bcbcbc" stroke-width="1.0" />
<text x="373.60" y="797.40" font-size="11.7" fill="#bcbcbc" text-anchor="start" font-weight="normal" font-style="normal" >SF2=0.82</text>
<text x="373.60" y="811.70" font-size="11.7" fill="#bcbcbc">D<tspan font-size="7.49" dy="3.3">25</tspan><tspan dy="-3.3">=6.3</tspan></text>
<text x="470.30" y="783.10" font-size="11.7" fill="#888888" text-anchor="start" font-weight="normal" font-style="normal" >KPP + PTEN C7</text>
<line x1="470.30" y1="785.10" x2="556.46" y2="785.10" stroke="#888888" stroke-width="1.0" />
<text x="470.30" y="797.40" font-size="11.7" fill="#888888" text-anchor="start" font-weight="normal" font-style="normal" >SF2=0.88</text>
<text x="470.30" y="811.70" font-size="11.7" fill="#888888">D<tspan font-size="7.49" dy="3.3">25</tspan><tspan dy="-3.3">=6.7</tspan></text>
<text x="373.60" y="829.90" font-size="11.7" fill="#333333" text-anchor="start" font-weight="normal" font-style="normal" >KPP + PTEN C15</text>
<line x1="373.60" y1="831.90" x2="466.26" y2="831.90" stroke="#333333" stroke-width="1.0" />
<text x="373.60" y="844.20" font-size="11.7" fill="#333333" text-anchor="start" font-weight="normal" font-style="normal" >SF2=0.86</text>
<text x="373.60" y="858.50" font-size="11.7" fill="#333333">D<tspan font-size="7.49" dy="3.3">25</tspan><tspan dy="-3.3">=6.4</tspan></text>
<text x="470.30" y="829.90" font-size="11.7" fill="#000000" text-anchor="start" font-weight="normal" font-style="normal" >KPP + PTEN C18</text>
<line x1="470.30" y1="831.90" x2="562.96" y2="831.90" stroke="#000000" stroke-width="1.0" />
<text x="470.30" y="844.20" font-size="11.7" fill="#000000" text-anchor="start" font-weight="normal" font-style="normal" >SF2=0.84</text>
<text x="470.30" y="858.50" font-size="11.7" fill="#000000">D<tspan font-size="7.49" dy="3.3">25</tspan><tspan dy="-3.3">=6.3</tspan></text>
<line x1="411.50" y1="544.20" x2="411.50" y2="623.80" stroke="#222" stroke-width="1.0" />
<line x1="457.40" y1="544.20" x2="457.40" y2="623.80" stroke="#222" stroke-width="1.0" />
<line x1="503.40" y1="544.20" x2="503.40" y2="623.80" stroke="#222" stroke-width="1.0" />
<line x1="549.40" y1="544.20" x2="549.40" y2="623.80" stroke="#222" stroke-width="1.0" />
<line x1="595.40" y1="544.20" x2="595.40" y2="623.80" stroke="#222" stroke-width="1.0" />
<line x1="347.10" y1="558.10" x2="647.10" y2="558.10" stroke="#444" stroke-width="1.0" />
<line x1="347.10" y1="575.70" x2="647.10" y2="575.70" stroke="#444" stroke-width="1.0" />
<line x1="347.10" y1="592.30" x2="647.10" y2="592.30" stroke="#444" stroke-width="1.0" />
<line x1="347.10" y1="609.40" x2="647.10" y2="609.40" stroke="#444" stroke-width="1.0" />
<text x="379.30" y="552.90" font-size="9.3" fill="#111" text-anchor="middle" font-weight="normal" font-style="normal" >p-value</text>
<text x="434.45" y="552.90" font-size="9.3" fill="#111" text-anchor="middle" font-weight="normal" font-style="normal" >2Gy</text>
<text x="480.40" y="552.90" font-size="9.3" fill="#111" text-anchor="middle" font-weight="normal" font-style="normal" >3Gy</text>
<text x="526.40" y="552.90" font-size="9.3" fill="#111" text-anchor="middle" font-weight="normal" font-style="normal" >5Gy</text>
<text x="572.40" y="552.90" font-size="9.3" fill="#111" text-anchor="middle" font-weight="normal" font-style="normal" >7Gy</text>
<text x="618.40" y="552.90" font-size="9.3" fill="#111" text-anchor="middle" font-weight="normal" font-style="normal" >8Gy</text>
<text x="379.30" y="570.40" font-size="9.3" fill="#111" text-anchor="middle" font-weight="normal" font-style="normal" >KP6 vs KPP4</text>
<text x="434.45" y="570.40" font-size="9.3" fill="#111" text-anchor="middle" font-weight="normal" font-style="normal" >0.0033</text>
<text x="480.40" y="570.40" font-size="9.3" fill="#111" text-anchor="middle" font-weight="normal" font-style="normal" >0.0116</text>
<text x="526.40" y="570.40" font-size="9.3" fill="#111" text-anchor="middle" font-weight="normal" font-style="normal" >0.0054</text>
<text x="572.40" y="570.40" font-size="9.3" fill="#111" text-anchor="middle" font-weight="normal" font-style="normal" >&lt;0.0001</text>
<text x="618.40" y="570.40" font-size="9.3" fill="#111" text-anchor="middle" font-weight="normal" font-style="normal" >&lt;0.0001</text>
<text x="379.30" y="587.40" font-size="9.3" fill="#111" text-anchor="middle" font-weight="normal" font-style="normal" >KP6 vs KPP8</text>
<text x="434.45" y="587.40" font-size="9.3" fill="#111" text-anchor="middle" font-weight="normal" font-style="normal" >0.0751</text>
<text x="480.40" y="587.40" font-size="9.3" fill="#111" text-anchor="middle" font-weight="normal" font-style="normal" >0.0190</text>
<text x="526.40" y="587.40" font-size="9.3" fill="#111" text-anchor="middle" font-weight="normal" font-style="normal" >0.0276</text>
<text x="572.40" y="587.40" font-size="9.3" fill="#111" text-anchor="middle" font-weight="normal" font-style="normal" >0.0089</text>
<text x="618.40" y="587.40" font-size="9.3" fill="#111" text-anchor="middle" font-weight="normal" font-style="normal" >0.0138</text>
<text x="379.30" y="604.10" font-size="9.3" fill="#111" text-anchor="middle" font-weight="normal" font-style="normal" >KP5 vs KPP4</text>
<text x="434.45" y="604.10" font-size="9.3" fill="#111" text-anchor="middle" font-weight="normal" font-style="normal" >0.0007</text>
<text x="480.40" y="604.10" font-size="9.3" fill="#111" text-anchor="middle" font-weight="normal" font-style="normal" >0.0151</text>
<text x="526.40" y="604.10" font-size="9.3" fill="#111" text-anchor="middle" font-weight="normal" font-style="normal" >0.0013</text>
<text x="572.40" y="604.10" font-size="9.3" fill="#111" text-anchor="middle" font-weight="normal" font-style="normal" >&lt;0.0001</text>
<text x="618.40" y="604.10" font-size="9.3" fill="#111" text-anchor="middle" font-weight="normal" font-style="normal" >&lt;0.0001</text>
<text x="379.30" y="621.90" font-size="9.3" fill="#111" text-anchor="middle" font-weight="normal" font-style="normal" >KP5 vs KPP8</text>
<text x="434.45" y="621.90" font-size="9.3" fill="#111" text-anchor="middle" font-weight="normal" font-style="normal" >0.0164</text>
<text x="480.40" y="621.90" font-size="9.3" fill="#111" text-anchor="middle" font-weight="normal" font-style="normal" >0.0189</text>
<text x="526.40" y="621.90" font-size="9.3" fill="#111" text-anchor="middle" font-weight="normal" font-style="normal" >0.0021</text>
<text x="572.40" y="621.90" font-size="9.3" fill="#111" text-anchor="middle" font-weight="normal" font-style="normal" >0.0015</text>
<text x="618.40" y="621.90" font-size="9.3" fill="#111" text-anchor="middle" font-weight="normal" font-style="normal" >0,0011</text>
<line x1="411.50" y1="927.90" x2="411.50" y2="1007.50" stroke="#222" stroke-width="1.0" />
<line x1="457.40" y1="927.90" x2="457.40" y2="1007.50" stroke="#222" stroke-width="1.0" />
<line x1="503.40" y1="927.90" x2="503.40" y2="1007.50" stroke="#222" stroke-width="1.0" />
<line x1="549.40" y1="927.90" x2="549.40" y2="1007.50" stroke="#222" stroke-width="1.0" />
<line x1="595.40" y1="927.90" x2="595.40" y2="1007.50" stroke="#222" stroke-width="1.0" />
<line x1="347.10" y1="942.30" x2="647.10" y2="942.30" stroke="#444" stroke-width="1.0" />
<line x1="347.10" y1="959.40" x2="647.10" y2="959.40" stroke="#444" stroke-width="1.0" />
<line x1="347.10" y1="976.00" x2="647.10" y2="976.00" stroke="#444" stroke-width="1.0" />
<line x1="347.10" y1="992.80" x2="647.10" y2="992.80" stroke="#444" stroke-width="1.0" />
<text x="379.30" y="936.60" font-size="9.3" fill="#111" text-anchor="middle" font-weight="normal" font-style="normal" >p-value</text>
<text x="434.45" y="936.60" font-size="9.3" fill="#111" text-anchor="middle" font-weight="normal" font-style="normal" >2Gy</text>
<text x="480.40" y="936.60" font-size="9.3" fill="#111" text-anchor="middle" font-weight="normal" font-style="normal" >3Gy</text>
<text x="526.40" y="936.60" font-size="9.3" fill="#111" text-anchor="middle" font-weight="normal" font-style="normal" >5Gy</text>
<text x="572.40" y="936.60" font-size="9.3" fill="#111" text-anchor="middle" font-weight="normal" font-style="normal" >7Gy</text>
<text x="618.40" y="936.60" font-size="9.3" fill="#111" text-anchor="middle" font-weight="normal" font-style="normal" >8Gy</text>
<text x="379.30" y="954.60" font-size="9.3" fill="#111" text-anchor="middle" font-weight="normal" font-style="normal" >KPP vs C5</text>
<text x="434.45" y="954.60" font-size="9.3" fill="#111" text-anchor="middle" font-weight="normal" font-style="normal" >0.0037</text>
<text x="480.40" y="954.60" font-size="9.3" fill="#111" text-anchor="middle" font-weight="normal" font-style="normal" >0.0033</text>
<text x="526.40" y="954.60" font-size="9.3" fill="#111" text-anchor="middle" font-weight="normal" font-style="normal" >0.0016</text>
<text x="572.40" y="954.60" font-size="9.3" fill="#111" text-anchor="middle" font-weight="normal" font-style="normal" >0.0012</text>
<text x="618.40" y="954.60" font-size="9.3" fill="#111" text-anchor="middle" font-weight="normal" font-style="normal" >0.0016</text>
<text x="379.30" y="971.10" font-size="9.3" fill="#111" text-anchor="middle" font-weight="normal" font-style="normal" >KPP vs C7</text>
<text x="434.45" y="971.10" font-size="9.3" fill="#111" text-anchor="middle" font-weight="normal" font-style="normal" >0.0259</text>
<text x="480.40" y="971.10" font-size="9.3" fill="#111" text-anchor="middle" font-weight="normal" font-style="normal" >0.0133</text>
<text x="526.40" y="971.10" font-size="9.3" fill="#111" text-anchor="middle" font-weight="normal" font-style="normal" >0.0236</text>
<text x="572.40" y="971.10" font-size="9.3" fill="#111" text-anchor="middle" font-weight="normal" font-style="normal" >0.0035</text>
<text x="618.40" y="971.10" font-size="9.3" fill="#111" text-anchor="middle" font-weight="normal" font-style="normal" >0.0078</text>
<text x="379.30" y="987.80" font-size="9.3" fill="#111" text-anchor="middle" font-weight="normal" font-style="normal" >KPP vs C15</text>
<text x="434.45" y="987.80" font-size="9.3" fill="#111" text-anchor="middle" font-weight="normal" font-style="normal" >0.0026</text>
<text x="480.40" y="987.80" font-size="9.3" fill="#111" text-anchor="middle" font-weight="normal" font-style="normal" >0.0018</text>
<text x="526.40" y="987.80" font-size="9.3" fill="#111" text-anchor="middle" font-weight="normal" font-style="normal" >0.0033</text>
<text x="572.40" y="987.80" font-size="9.3" fill="#111" text-anchor="middle" font-weight="normal" font-style="normal" >0.0011</text>
<text x="618.40" y="987.80" font-size="9.3" fill="#111" text-anchor="middle" font-weight="normal" font-style="normal" >0.0018</text>
<text x="379.30" y="1005.30" font-size="9.3" fill="#111" text-anchor="middle" font-weight="normal" font-style="normal" >KPP vs C18</text>
<text x="434.45" y="1005.30" font-size="9.3" fill="#111" text-anchor="middle" font-weight="normal" font-style="normal" >0.0049</text>
<text x="480.40" y="1005.30" font-size="9.3" fill="#111" text-anchor="middle" font-weight="normal" font-style="normal" >0.0038</text>
<text x="526.40" y="1005.30" font-size="9.3" fill="#111" text-anchor="middle" font-weight="normal" font-style="normal" >0.0057</text>
<text x="572.40" y="1005.30" font-size="9.3" fill="#111" text-anchor="middle" font-weight="normal" font-style="normal" >0.0023</text>
<text x="618.40" y="1005.30" font-size="9.3" fill="#111" text-anchor="middle" font-weight="normal" font-style="normal" >0,0016</text>
</svg></body></html>
